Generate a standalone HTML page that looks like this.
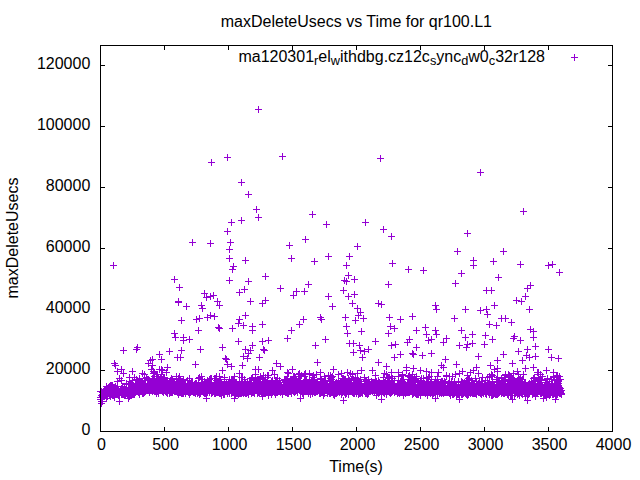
<!DOCTYPE html>
<html><head><meta charset="utf-8"><style>
html,body{margin:0;padding:0;background:#fff;}
svg{display:block;font-family:"Liberation Sans",sans-serif;font-size:16px;fill:#000;}
</style></head><body>
<svg width="640" height="480" viewBox="0 0 640 480">
<rect width="640" height="480" fill="#fff"/>
<path d="M100.5 432v-5M100.5 45v5M164.5 432v-5M164.5 45v5M228.5 432v-5M228.5 45v5M292.5 432v-5M292.5 45v5M356.5 432v-5M356.5 45v5M420.5 432v-5M420.5 45v5M484.5 432v-5M484.5 45v5M548.5 432v-5M548.5 45v5M612.5 432v-5M612.5 45v5M100 431.5h5M613 431.5h-5M100 370.5h5M613 370.5h-5M100 309.5h5M613 309.5h-5M100 248.5h5M613 248.5h-5M100 187.5h5M613 187.5h-5M100 126.5h5M613 126.5h-5M100 65.5h5M613 65.5h-5" stroke="#000" stroke-width="1" fill="none"/>
<g><text x="101.5" y="450" text-anchor="middle">0</text><text x="165.5" y="450" text-anchor="middle">500</text><text x="229.5" y="450" text-anchor="middle">1000</text><text x="293.5" y="450" text-anchor="middle">1500</text><text x="357.5" y="450" text-anchor="middle">2000</text><text x="421.5" y="450" text-anchor="middle">2500</text><text x="485.5" y="450" text-anchor="middle">3000</text><text x="549.5" y="450" text-anchor="middle">3500</text><text x="613.5" y="450" text-anchor="middle">4000</text><text x="90.3" y="435" text-anchor="end">0</text><text x="90.3" y="374" text-anchor="end">20000</text><text x="90.3" y="313" text-anchor="end">40000</text><text x="90.3" y="252" text-anchor="end">60000</text><text x="90.3" y="191" text-anchor="end">80000</text><text x="90.3" y="130" text-anchor="end">100000</text><text x="90.3" y="69" text-anchor="end">120000</text></g>
<text x="356.4" y="27" text-anchor="middle">maxDeleteUsecs vs Time for qr100.L1</text>
<text x="356" y="472" text-anchor="middle">Time(s)</text>
<text transform="translate(18,238) rotate(-90)" text-anchor="middle">maxDeleteUsecs</text>
<text x="545" y="61.5" text-anchor="end">ma120301<tspan font-size="12.8" dy="3.5">r</tspan><tspan dy="-3.5">el</tspan><tspan font-size="12.8" dy="3.5">w</tspan><tspan dy="-3.5">ithdbg.cz12c</tspan><tspan font-size="12.8" dy="3.5">s</tspan><tspan dy="-3.5">ync</tspan><tspan font-size="12.8" dy="3.5">d</tspan><tspan dy="-3.5">w0</tspan><tspan font-size="12.8" dy="3.5">c</tspan><tspan dy="-3.5">32r128</tspan></text>
<g stroke="#9400d3" stroke-width="1" fill="none">
<path d="M571 57.5h7M574.5 54v7"/>
<path d="M97 399.5h7M100.5 396v7M97 399.5h7M100.5 396v7M97 391.5h7M100.5 388v7M97 397.5h7M100.5 394v7M98 399.5h7M101.5 396v7M98 399.5h7M101.5 396v7M98 401.5h7M101.5 398v7M98 397.5h7M101.5 394v7M98 395.5h7M101.5 392v7M98 391.5h7M101.5 388v7M98 403.5h7M101.5 400v7M98 391.5h7M101.5 388v7M99 401.5h7M102.5 398v7M99 395.5h7M102.5 392v7M99 396.5h7M102.5 393v7M99 394.5h7M102.5 391v7M99 392.5h7M102.5 389v7M99 396.5h7M102.5 393v7M99 394.5h7M102.5 391v7M99 394.5h7M102.5 391v7M100 394.5h7M103.5 391v7M100 393.5h7M103.5 390v7M100 394.5h7M103.5 391v7M100 392.5h7M103.5 389v7M100 394.5h7M103.5 391v7M100 394.5h7M103.5 391v7M100 391.5h7M103.5 388v7M100 394.5h7M103.5 391v7M101 390.5h7M104.5 387v7M101 395.5h7M104.5 392v7M101 395.5h7M104.5 392v7M101 395.5h7M104.5 392v7M101 392.5h7M104.5 389v7M101 396.5h7M104.5 393v7M101 390.5h7M104.5 387v7M101 394.5h7M104.5 391v7M102 392.5h7M105.5 389v7M102 392.5h7M105.5 389v7M102 394.5h7M105.5 391v7M102 389.5h7M105.5 386v7M102 394.5h7M105.5 391v7M102 392.5h7M105.5 389v7M102 390.5h7M105.5 387v7M103 398.5h7M106.5 395v7M103 389.5h7M106.5 386v7M103 386.5h7M106.5 383v7M103 394.5h7M106.5 391v7M103 391.5h7M106.5 388v7M103 389.5h7M106.5 386v7M103 393.5h7M106.5 390v7M103 389.5h7M106.5 386v7M104 391.5h7M107.5 388v7M104 396.5h7M107.5 393v7M104 392.5h7M107.5 389v7M104 388.5h7M107.5 385v7M104 391.5h7M107.5 388v7M104 395.5h7M107.5 392v7M104 391.5h7M107.5 388v7M104 393.5h7M107.5 390v7M105 388.5h7M108.5 385v7M105 392.5h7M108.5 389v7M105 387.5h7M108.5 384v7M105 389.5h7M108.5 386v7M105 393.5h7M108.5 390v7M105 392.5h7M108.5 389v7M105 392.5h7M108.5 389v7M105 388.5h7M108.5 385v7M106 394.5h7M109.5 391v7M106 389.5h7M109.5 386v7M106 386.5h7M109.5 383v7M106 389.5h7M109.5 386v7M106 395.5h7M109.5 392v7M106 389.5h7M109.5 386v7M106 390.5h7M109.5 387v7M106 389.5h7M109.5 386v7M107 395.5h7M110.5 392v7M107 389.5h7M110.5 386v7M107 385.5h7M110.5 382v7M107 390.5h7M110.5 387v7M107 388.5h7M110.5 385v7M107 396.5h7M110.5 393v7M107 391.5h7M110.5 388v7M107 393.5h7M110.5 390v7M108 393.5h7M111.5 390v7M108 391.5h7M111.5 388v7M108 393.5h7M111.5 390v7M108 392.5h7M111.5 389v7M108 385.5h7M111.5 382v7M108 393.5h7M111.5 390v7M108 392.5h7M111.5 389v7M109 385.5h7M112.5 382v7M109 386.5h7M112.5 383v7M109 395.5h7M112.5 392v7M109 390.5h7M112.5 387v7M109 391.5h7M112.5 388v7M109 392.5h7M112.5 389v7M109 391.5h7M112.5 388v7M109 391.5h7M112.5 388v7M110 394.5h7M113.5 391v7M110 387.5h7M113.5 384v7M110 392.5h7M113.5 389v7M110 395.5h7M113.5 392v7M110 388.5h7M113.5 385v7M110 395.5h7M113.5 392v7M110 394.5h7M113.5 391v7M110 392.5h7M113.5 389v7M111 392.5h7M114.5 389v7M111 393.5h7M114.5 390v7M111 391.5h7M114.5 388v7M111 387.5h7M114.5 384v7M111 393.5h7M114.5 390v7M111 397.5h7M114.5 394v7M111 394.5h7M114.5 391v7M111 391.5h7M114.5 388v7M112 394.5h7M115.5 391v7M112 389.5h7M115.5 386v7M112 391.5h7M115.5 388v7M112 391.5h7M115.5 388v7M112 391.5h7M115.5 388v7M112 386.5h7M115.5 383v7M112 392.5h7M115.5 389v7M112 393.5h7M115.5 390v7M113 391.5h7M116.5 388v7M113 389.5h7M116.5 386v7M113 393.5h7M116.5 390v7M113 392.5h7M116.5 389v7M113 393.5h7M116.5 390v7M113 388.5h7M116.5 385v7M113 389.5h7M116.5 386v7M114 392.5h7M117.5 389v7M114 388.5h7M117.5 385v7M114 381.5h7M117.5 378v7M114 389.5h7M117.5 386v7M114 391.5h7M117.5 388v7M114 394.5h7M117.5 391v7M114 392.5h7M117.5 389v7M114 389.5h7M117.5 386v7M115 390.5h7M118.5 387v7M115 389.5h7M118.5 386v7M115 390.5h7M118.5 387v7M115 394.5h7M118.5 391v7M115 392.5h7M118.5 389v7M115 392.5h7M118.5 389v7M115 390.5h7M118.5 387v7M115 395.5h7M118.5 392v7M116 395.5h7M119.5 392v7M116 391.5h7M119.5 388v7M116 391.5h7M119.5 388v7M116 391.5h7M119.5 388v7M116 392.5h7M119.5 389v7M116 394.5h7M119.5 391v7M116 394.5h7M119.5 391v7M116 393.5h7M119.5 390v7M117 391.5h7M120.5 388v7M117 390.5h7M120.5 387v7M117 390.5h7M120.5 387v7M117 390.5h7M120.5 387v7M117 391.5h7M120.5 388v7M117 391.5h7M120.5 388v7M117 391.5h7M120.5 388v7M117 390.5h7M120.5 387v7M118 388.5h7M121.5 385v7M118 394.5h7M121.5 391v7M118 391.5h7M121.5 388v7M118 388.5h7M121.5 385v7M118 392.5h7M121.5 389v7M118 380.5h7M121.5 377v7M118 393.5h7M121.5 390v7M119 389.5h7M122.5 386v7M119 394.5h7M122.5 391v7M119 390.5h7M122.5 387v7M119 394.5h7M122.5 391v7M119 388.5h7M122.5 385v7M119 386.5h7M122.5 383v7M119 392.5h7M122.5 389v7M119 388.5h7M122.5 385v7M120 392.5h7M123.5 389v7M120 389.5h7M123.5 386v7M120 394.5h7M123.5 391v7M120 391.5h7M123.5 388v7M120 389.5h7M123.5 386v7M120 393.5h7M123.5 390v7M120 394.5h7M123.5 391v7M120 391.5h7M123.5 388v7M121 392.5h7M124.5 389v7M121 389.5h7M124.5 386v7M121 395.5h7M124.5 392v7M121 392.5h7M124.5 389v7M121 391.5h7M124.5 388v7M121 394.5h7M124.5 391v7M121 387.5h7M124.5 384v7M121 392.5h7M124.5 389v7M122 393.5h7M125.5 390v7M122 390.5h7M125.5 387v7M122 394.5h7M125.5 391v7M122 392.5h7M125.5 389v7M122 393.5h7M125.5 390v7M122 392.5h7M125.5 389v7M122 390.5h7M125.5 387v7M122 391.5h7M125.5 388v7M123 388.5h7M126.5 385v7M123 383.5h7M126.5 380v7M123 384.5h7M126.5 381v7M123 388.5h7M126.5 385v7M123 384.5h7M126.5 381v7M123 387.5h7M126.5 384v7M123 392.5h7M126.5 389v7M123 393.5h7M126.5 390v7M124 395.5h7M127.5 392v7M124 395.5h7M127.5 392v7M124 390.5h7M127.5 387v7M124 393.5h7M127.5 390v7M124 392.5h7M127.5 389v7M124 392.5h7M127.5 389v7M124 392.5h7M127.5 389v7M125 384.5h7M128.5 381v7M125 393.5h7M128.5 390v7M125 389.5h7M128.5 386v7M125 393.5h7M128.5 390v7M125 384.5h7M128.5 381v7M125 389.5h7M128.5 386v7M125 391.5h7M128.5 388v7M125 393.5h7M128.5 390v7M126 388.5h7M129.5 385v7M126 393.5h7M129.5 390v7M126 388.5h7M129.5 385v7M126 393.5h7M129.5 390v7M126 396.5h7M129.5 393v7M126 381.5h7M129.5 378v7M126 390.5h7M129.5 387v7M126 384.5h7M129.5 381v7M127 389.5h7M130.5 386v7M127 393.5h7M130.5 390v7M127 395.5h7M130.5 392v7M127 389.5h7M130.5 386v7M127 395.5h7M130.5 392v7M127 391.5h7M130.5 388v7M127 393.5h7M130.5 390v7M127 384.5h7M130.5 381v7M128 394.5h7M131.5 391v7M128 386.5h7M131.5 383v7M128 392.5h7M131.5 389v7M128 390.5h7M131.5 387v7M128 385.5h7M131.5 382v7M128 385.5h7M131.5 382v7M128 392.5h7M131.5 389v7M128 386.5h7M131.5 383v7M129 380.5h7M132.5 377v7M129 394.5h7M132.5 391v7M129 390.5h7M132.5 387v7M129 389.5h7M132.5 386v7M129 388.5h7M132.5 385v7M129 388.5h7M132.5 385v7M129 387.5h7M132.5 384v7M130 393.5h7M133.5 390v7M130 394.5h7M133.5 391v7M130 389.5h7M133.5 386v7M130 391.5h7M133.5 388v7M130 392.5h7M133.5 389v7M130 385.5h7M133.5 382v7M130 392.5h7M133.5 389v7M130 393.5h7M133.5 390v7M131 386.5h7M134.5 383v7M131 392.5h7M134.5 389v7M131 394.5h7M134.5 391v7M131 389.5h7M134.5 386v7M131 390.5h7M134.5 387v7M131 377.5h7M134.5 374v7M131 392.5h7M134.5 389v7M131 394.5h7M134.5 391v7M132 388.5h7M135.5 385v7M132 385.5h7M135.5 382v7M132 383.5h7M135.5 380v7M132 392.5h7M135.5 389v7M132 391.5h7M135.5 388v7M132 387.5h7M135.5 384v7M132 386.5h7M135.5 383v7M132 384.5h7M135.5 381v7M133 387.5h7M136.5 384v7M133 379.5h7M136.5 376v7M133 388.5h7M136.5 385v7M133 387.5h7M136.5 384v7M133 384.5h7M136.5 381v7M133 388.5h7M136.5 385v7M133 389.5h7M136.5 386v7M133 379.5h7M136.5 376v7M134 380.5h7M137.5 377v7M134 391.5h7M137.5 388v7M134 388.5h7M137.5 385v7M134 386.5h7M137.5 383v7M134 389.5h7M137.5 386v7M134 383.5h7M137.5 380v7M134 388.5h7M137.5 385v7M135 387.5h7M138.5 384v7M135 392.5h7M138.5 389v7M135 390.5h7M138.5 387v7M135 390.5h7M138.5 387v7M135 386.5h7M138.5 383v7M135 386.5h7M138.5 383v7M135 389.5h7M138.5 386v7M135 385.5h7M138.5 382v7M136 388.5h7M139.5 385v7M136 390.5h7M139.5 387v7M136 394.5h7M139.5 391v7M136 381.5h7M139.5 378v7M136 378.5h7M139.5 375v7M136 380.5h7M139.5 377v7M136 389.5h7M139.5 386v7M136 380.5h7M139.5 377v7M137 382.5h7M140.5 379v7M137 388.5h7M140.5 385v7M137 388.5h7M140.5 385v7M137 391.5h7M140.5 388v7M137 388.5h7M140.5 385v7M137 383.5h7M140.5 380v7M137 388.5h7M140.5 385v7M137 391.5h7M140.5 388v7M138 387.5h7M141.5 384v7M138 390.5h7M141.5 387v7M138 385.5h7M141.5 382v7M138 386.5h7M141.5 383v7M138 384.5h7M141.5 381v7M138 387.5h7M141.5 384v7M138 383.5h7M141.5 380v7M138 381.5h7M141.5 378v7M139 382.5h7M142.5 379v7M139 386.5h7M142.5 383v7M139 387.5h7M142.5 384v7M139 389.5h7M142.5 386v7M139 383.5h7M142.5 380v7M139 384.5h7M142.5 381v7M139 393.5h7M142.5 390v7M139 386.5h7M142.5 383v7M140 393.5h7M143.5 390v7M140 384.5h7M143.5 381v7M140 389.5h7M143.5 386v7M140 391.5h7M143.5 388v7M140 387.5h7M143.5 384v7M140 391.5h7M143.5 388v7M140 390.5h7M143.5 387v7M141 374.5h7M144.5 371v7M141 387.5h7M144.5 384v7M141 386.5h7M144.5 383v7M141 386.5h7M144.5 383v7M141 392.5h7M144.5 389v7M141 386.5h7M144.5 383v7M141 390.5h7M144.5 387v7M141 378.5h7M144.5 375v7M142 388.5h7M145.5 385v7M142 385.5h7M145.5 382v7M142 389.5h7M145.5 386v7M142 391.5h7M145.5 388v7M142 380.5h7M145.5 377v7M142 388.5h7M145.5 385v7M142 387.5h7M145.5 384v7M142 390.5h7M145.5 387v7M143 390.5h7M146.5 387v7M143 389.5h7M146.5 386v7M143 386.5h7M146.5 383v7M143 388.5h7M146.5 385v7M143 386.5h7M146.5 383v7M143 386.5h7M146.5 383v7M143 377.5h7M146.5 374v7M143 387.5h7M146.5 384v7M144 390.5h7M147.5 387v7M144 386.5h7M147.5 383v7M144 387.5h7M147.5 384v7M144 383.5h7M147.5 380v7M144 387.5h7M147.5 384v7M144 379.5h7M147.5 376v7M144 379.5h7M147.5 376v7M144 389.5h7M147.5 386v7M145 387.5h7M148.5 384v7M145 387.5h7M148.5 384v7M145 390.5h7M148.5 387v7M145 380.5h7M148.5 377v7M145 388.5h7M148.5 385v7M145 379.5h7M148.5 376v7M145 387.5h7M148.5 384v7M146 388.5h7M149.5 385v7M146 387.5h7M149.5 384v7M146 390.5h7M149.5 387v7M146 388.5h7M149.5 385v7M146 391.5h7M149.5 388v7M146 380.5h7M149.5 377v7M146 386.5h7M149.5 383v7M146 392.5h7M149.5 389v7M147 383.5h7M150.5 380v7M147 389.5h7M150.5 386v7M147 389.5h7M150.5 386v7M147 387.5h7M150.5 384v7M147 385.5h7M150.5 382v7M147 381.5h7M150.5 378v7M147 389.5h7M150.5 386v7M147 390.5h7M150.5 387v7M148 390.5h7M151.5 387v7M148 382.5h7M151.5 379v7M148 387.5h7M151.5 384v7M148 383.5h7M151.5 380v7M148 383.5h7M151.5 380v7M148 387.5h7M151.5 384v7M148 382.5h7M151.5 379v7M148 388.5h7M151.5 385v7M149 387.5h7M152.5 384v7M149 378.5h7M152.5 375v7M149 388.5h7M152.5 385v7M149 385.5h7M152.5 382v7M149 391.5h7M152.5 388v7M149 391.5h7M152.5 388v7M149 388.5h7M152.5 385v7M149 389.5h7M152.5 386v7M150 378.5h7M153.5 375v7M150 378.5h7M153.5 375v7M150 373.5h7M153.5 370v7M150 383.5h7M153.5 380v7M150 371.5h7M153.5 368v7M150 390.5h7M153.5 387v7M150 382.5h7M153.5 379v7M151 379.5h7M154.5 376v7M151 391.5h7M154.5 388v7M151 389.5h7M154.5 386v7M151 387.5h7M154.5 384v7M151 383.5h7M154.5 380v7M151 376.5h7M154.5 373v7M151 387.5h7M154.5 384v7M151 379.5h7M154.5 376v7M152 390.5h7M155.5 387v7M152 385.5h7M155.5 382v7M152 383.5h7M155.5 380v7M152 388.5h7M155.5 385v7M152 387.5h7M155.5 384v7M152 391.5h7M155.5 388v7M152 386.5h7M155.5 383v7M152 387.5h7M155.5 384v7M153 376.5h7M156.5 373v7M153 382.5h7M156.5 379v7M153 391.5h7M156.5 388v7M153 383.5h7M156.5 380v7M153 379.5h7M156.5 376v7M153 390.5h7M156.5 387v7M153 387.5h7M156.5 384v7M153 393.5h7M156.5 390v7M154 385.5h7M157.5 382v7M154 385.5h7M157.5 382v7M154 374.5h7M157.5 371v7M154 380.5h7M157.5 377v7M154 382.5h7M157.5 379v7M154 382.5h7M157.5 379v7M154 386.5h7M157.5 383v7M154 391.5h7M157.5 388v7M155 378.5h7M158.5 375v7M155 379.5h7M158.5 376v7M155 390.5h7M158.5 387v7M155 393.5h7M158.5 390v7M155 384.5h7M158.5 381v7M155 389.5h7M158.5 386v7M155 390.5h7M158.5 387v7M155 388.5h7M158.5 385v7M156 389.5h7M159.5 386v7M156 388.5h7M159.5 385v7M156 390.5h7M159.5 387v7M156 382.5h7M159.5 379v7M156 380.5h7M159.5 377v7M156 369.5h7M159.5 366v7M156 386.5h7M159.5 383v7M157 381.5h7M160.5 378v7M157 380.5h7M160.5 377v7M157 383.5h7M160.5 380v7M157 384.5h7M160.5 381v7M157 382.5h7M160.5 379v7M157 385.5h7M160.5 382v7M157 377.5h7M160.5 374v7M157 389.5h7M160.5 386v7M158 387.5h7M161.5 384v7M158 374.5h7M161.5 371v7M158 374.5h7M161.5 371v7M158 369.5h7M161.5 366v7M158 388.5h7M161.5 385v7M158 389.5h7M161.5 386v7M158 376.5h7M161.5 373v7M158 390.5h7M161.5 387v7M159 382.5h7M162.5 379v7M159 388.5h7M162.5 385v7M159 370.5h7M162.5 367v7M159 389.5h7M162.5 386v7M159 384.5h7M162.5 381v7M159 391.5h7M162.5 388v7M159 391.5h7M162.5 388v7M159 385.5h7M162.5 382v7M160 383.5h7M163.5 380v7M160 383.5h7M163.5 380v7M160 380.5h7M163.5 377v7M160 392.5h7M163.5 389v7M160 387.5h7M163.5 384v7M160 378.5h7M163.5 375v7M160 391.5h7M163.5 388v7M160 385.5h7M163.5 382v7M161 385.5h7M164.5 382v7M161 387.5h7M164.5 384v7M161 390.5h7M164.5 387v7M161 388.5h7M164.5 385v7M161 377.5h7M164.5 374v7M161 385.5h7M164.5 382v7M161 386.5h7M164.5 383v7M162 388.5h7M165.5 385v7M162 386.5h7M165.5 383v7M162 387.5h7M165.5 384v7M162 381.5h7M165.5 378v7M162 391.5h7M165.5 388v7M162 387.5h7M165.5 384v7M162 383.5h7M165.5 380v7M162 390.5h7M165.5 387v7M163 384.5h7M166.5 381v7M163 381.5h7M166.5 378v7M163 372.5h7M166.5 369v7M163 387.5h7M166.5 384v7M163 387.5h7M166.5 384v7M163 392.5h7M166.5 389v7M163 390.5h7M166.5 387v7M163 389.5h7M166.5 386v7M164 382.5h7M167.5 379v7M164 381.5h7M167.5 378v7M164 393.5h7M167.5 390v7M164 392.5h7M167.5 389v7M164 386.5h7M167.5 383v7M164 389.5h7M167.5 386v7M164 391.5h7M167.5 388v7M164 385.5h7M167.5 382v7M165 387.5h7M168.5 384v7M165 385.5h7M168.5 382v7M165 389.5h7M168.5 386v7M165 384.5h7M168.5 381v7M165 390.5h7M168.5 387v7M165 388.5h7M168.5 385v7M165 387.5h7M168.5 384v7M165 390.5h7M168.5 387v7M166 393.5h7M169.5 390v7M166 390.5h7M169.5 387v7M166 384.5h7M169.5 381v7M166 385.5h7M169.5 382v7M166 387.5h7M169.5 384v7M166 387.5h7M169.5 384v7M166 385.5h7M169.5 382v7M167 392.5h7M170.5 389v7M167 390.5h7M170.5 387v7M167 389.5h7M170.5 386v7M167 387.5h7M170.5 384v7M167 380.5h7M170.5 377v7M167 392.5h7M170.5 389v7M167 384.5h7M170.5 381v7M167 387.5h7M170.5 384v7M168 385.5h7M171.5 382v7M168 387.5h7M171.5 384v7M168 389.5h7M171.5 386v7M168 378.5h7M171.5 375v7M168 388.5h7M171.5 385v7M168 392.5h7M171.5 389v7M168 388.5h7M171.5 385v7M168 380.5h7M171.5 377v7M169 392.5h7M172.5 389v7M169 385.5h7M172.5 382v7M169 381.5h7M172.5 378v7M169 383.5h7M172.5 380v7M169 379.5h7M172.5 376v7M169 379.5h7M172.5 376v7M169 391.5h7M172.5 388v7M169 390.5h7M172.5 387v7M170 390.5h7M173.5 387v7M170 386.5h7M173.5 383v7M170 389.5h7M173.5 386v7M170 387.5h7M173.5 384v7M170 388.5h7M173.5 385v7M170 386.5h7M173.5 383v7M170 384.5h7M173.5 381v7M170 389.5h7M173.5 386v7M171 391.5h7M174.5 388v7M171 391.5h7M174.5 388v7M171 386.5h7M174.5 383v7M171 389.5h7M174.5 386v7M171 384.5h7M174.5 381v7M171 383.5h7M174.5 380v7M171 387.5h7M174.5 384v7M171 390.5h7M174.5 387v7M172 389.5h7M175.5 386v7M172 387.5h7M175.5 384v7M172 386.5h7M175.5 383v7M172 391.5h7M175.5 388v7M172 386.5h7M175.5 383v7M172 391.5h7M175.5 388v7M172 390.5h7M175.5 387v7M173 385.5h7M176.5 382v7M173 382.5h7M176.5 379v7M173 389.5h7M176.5 386v7M173 386.5h7M176.5 383v7M173 390.5h7M176.5 387v7M173 391.5h7M176.5 388v7M173 390.5h7M176.5 387v7M173 376.5h7M176.5 373v7M174 385.5h7M177.5 382v7M174 383.5h7M177.5 380v7M174 384.5h7M177.5 381v7M174 390.5h7M177.5 387v7M174 389.5h7M177.5 386v7M174 388.5h7M177.5 385v7M174 392.5h7M177.5 389v7M174 387.5h7M177.5 384v7M175 388.5h7M178.5 385v7M175 385.5h7M178.5 382v7M175 394.5h7M178.5 391v7M175 378.5h7M178.5 375v7M175 387.5h7M178.5 384v7M175 387.5h7M178.5 384v7M175 387.5h7M178.5 384v7M175 387.5h7M178.5 384v7M176 389.5h7M179.5 386v7M176 391.5h7M179.5 388v7M176 392.5h7M179.5 389v7M176 378.5h7M179.5 375v7M176 391.5h7M179.5 388v7M176 385.5h7M179.5 382v7M176 388.5h7M179.5 385v7M176 378.5h7M179.5 375v7M177 379.5h7M180.5 376v7M177 383.5h7M180.5 380v7M177 383.5h7M180.5 380v7M177 389.5h7M180.5 386v7M177 392.5h7M180.5 389v7M177 389.5h7M180.5 386v7M177 386.5h7M180.5 383v7M178 393.5h7M181.5 390v7M178 390.5h7M181.5 387v7M178 389.5h7M181.5 386v7M178 390.5h7M181.5 387v7M178 393.5h7M181.5 390v7M178 390.5h7M181.5 387v7M178 381.5h7M181.5 378v7M178 392.5h7M181.5 389v7M179 390.5h7M182.5 387v7M179 392.5h7M182.5 389v7M179 387.5h7M182.5 384v7M179 382.5h7M182.5 379v7M179 391.5h7M182.5 388v7M179 385.5h7M182.5 382v7M179 393.5h7M182.5 390v7M179 390.5h7M182.5 387v7M180 390.5h7M183.5 387v7M180 391.5h7M183.5 388v7M180 393.5h7M183.5 390v7M180 379.5h7M183.5 376v7M180 389.5h7M183.5 386v7M180 391.5h7M183.5 388v7M180 390.5h7M183.5 387v7M180 391.5h7M183.5 388v7M181 389.5h7M184.5 386v7M181 384.5h7M184.5 381v7M181 390.5h7M184.5 387v7M181 391.5h7M184.5 388v7M181 390.5h7M184.5 387v7M181 388.5h7M184.5 385v7M181 386.5h7M184.5 383v7M181 391.5h7M184.5 388v7M182 383.5h7M185.5 380v7M182 393.5h7M185.5 390v7M182 392.5h7M185.5 389v7M182 387.5h7M185.5 384v7M182 393.5h7M185.5 390v7M182 391.5h7M185.5 388v7M182 388.5h7M185.5 385v7M183 391.5h7M186.5 388v7M183 388.5h7M186.5 385v7M183 389.5h7M186.5 386v7M183 388.5h7M186.5 385v7M183 390.5h7M186.5 387v7M183 386.5h7M186.5 383v7M183 391.5h7M186.5 388v7M183 389.5h7M186.5 386v7M184 389.5h7M187.5 386v7M184 390.5h7M187.5 387v7M184 387.5h7M187.5 384v7M184 389.5h7M187.5 386v7M184 389.5h7M187.5 386v7M184 380.5h7M187.5 377v7M184 389.5h7M187.5 386v7M184 387.5h7M187.5 384v7M185 388.5h7M188.5 385v7M185 390.5h7M188.5 387v7M185 392.5h7M188.5 389v7M185 384.5h7M188.5 381v7M185 385.5h7M188.5 382v7M185 390.5h7M188.5 387v7M185 391.5h7M188.5 388v7M185 388.5h7M188.5 385v7M186 394.5h7M189.5 391v7M186 393.5h7M189.5 390v7M186 383.5h7M189.5 380v7M186 378.5h7M189.5 375v7M186 380.5h7M189.5 377v7M186 385.5h7M189.5 382v7M186 390.5h7M189.5 387v7M186 386.5h7M189.5 383v7M187 385.5h7M190.5 382v7M187 392.5h7M190.5 389v7M187 384.5h7M190.5 381v7M187 392.5h7M190.5 389v7M187 390.5h7M190.5 387v7M187 388.5h7M190.5 385v7M187 384.5h7M190.5 381v7M187 392.5h7M190.5 389v7M188 391.5h7M191.5 388v7M188 388.5h7M191.5 385v7M188 391.5h7M191.5 388v7M188 389.5h7M191.5 386v7M188 382.5h7M191.5 379v7M188 386.5h7M191.5 383v7M188 388.5h7M191.5 385v7M189 391.5h7M192.5 388v7M189 390.5h7M192.5 387v7M189 382.5h7M192.5 379v7M189 384.5h7M192.5 381v7M189 389.5h7M192.5 386v7M189 391.5h7M192.5 388v7M189 390.5h7M192.5 387v7M189 386.5h7M192.5 383v7M190 386.5h7M193.5 383v7M190 392.5h7M193.5 389v7M190 389.5h7M193.5 386v7M190 391.5h7M193.5 388v7M190 388.5h7M193.5 385v7M190 390.5h7M193.5 387v7M190 391.5h7M193.5 388v7M190 386.5h7M193.5 383v7M191 392.5h7M194.5 389v7M191 384.5h7M194.5 381v7M191 389.5h7M194.5 386v7M191 386.5h7M194.5 383v7M191 390.5h7M194.5 387v7M191 391.5h7M194.5 388v7M191 389.5h7M194.5 386v7M191 384.5h7M194.5 381v7M192 383.5h7M195.5 380v7M192 389.5h7M195.5 386v7M192 389.5h7M195.5 386v7M192 391.5h7M195.5 388v7M192 383.5h7M195.5 380v7M192 384.5h7M195.5 381v7M192 393.5h7M195.5 390v7M192 393.5h7M195.5 390v7M193 387.5h7M196.5 384v7M193 385.5h7M196.5 382v7M193 389.5h7M196.5 386v7M193 388.5h7M196.5 385v7M193 383.5h7M196.5 380v7M193 384.5h7M196.5 381v7M193 389.5h7M196.5 386v7M194 392.5h7M197.5 389v7M194 389.5h7M197.5 386v7M194 388.5h7M197.5 385v7M194 387.5h7M197.5 384v7M194 386.5h7M197.5 383v7M194 393.5h7M197.5 390v7M194 386.5h7M197.5 383v7M194 389.5h7M197.5 386v7M195 386.5h7M198.5 383v7M195 392.5h7M198.5 389v7M195 378.5h7M198.5 375v7M195 392.5h7M198.5 389v7M195 382.5h7M198.5 379v7M195 383.5h7M198.5 380v7M195 390.5h7M198.5 387v7M195 387.5h7M198.5 384v7M196 387.5h7M199.5 384v7M196 390.5h7M199.5 387v7M196 390.5h7M199.5 387v7M196 390.5h7M199.5 387v7M196 391.5h7M199.5 388v7M196 377.5h7M199.5 374v7M196 391.5h7M199.5 388v7M196 394.5h7M199.5 391v7M197 390.5h7M200.5 387v7M197 389.5h7M200.5 386v7M197 387.5h7M200.5 384v7M197 393.5h7M200.5 390v7M197 390.5h7M200.5 387v7M197 388.5h7M200.5 385v7M197 389.5h7M200.5 386v7M197 391.5h7M200.5 388v7M198 390.5h7M201.5 387v7M198 388.5h7M201.5 385v7M198 376.5h7M201.5 373v7M198 384.5h7M201.5 381v7M198 388.5h7M201.5 385v7M198 388.5h7M201.5 385v7M198 383.5h7M201.5 380v7M199 390.5h7M202.5 387v7M199 382.5h7M202.5 379v7M199 379.5h7M202.5 376v7M199 385.5h7M202.5 382v7M199 388.5h7M202.5 385v7M199 379.5h7M202.5 376v7M199 391.5h7M202.5 388v7M199 389.5h7M202.5 386v7M200 390.5h7M203.5 387v7M200 384.5h7M203.5 381v7M200 388.5h7M203.5 385v7M200 387.5h7M203.5 384v7M200 392.5h7M203.5 389v7M200 386.5h7M203.5 383v7M200 392.5h7M203.5 389v7M200 388.5h7M203.5 385v7M201 390.5h7M204.5 387v7M201 387.5h7M204.5 384v7M201 381.5h7M204.5 378v7M201 393.5h7M204.5 390v7M201 393.5h7M204.5 390v7M201 388.5h7M204.5 385v7M201 387.5h7M204.5 384v7M201 388.5h7M204.5 385v7M202 384.5h7M205.5 381v7M202 388.5h7M205.5 385v7M202 393.5h7M205.5 390v7M202 391.5h7M205.5 388v7M202 385.5h7M205.5 382v7M202 386.5h7M205.5 383v7M202 390.5h7M205.5 387v7M202 388.5h7M205.5 385v7M203 390.5h7M206.5 387v7M203 387.5h7M206.5 384v7M203 390.5h7M206.5 387v7M203 392.5h7M206.5 389v7M203 389.5h7M206.5 386v7M203 387.5h7M206.5 384v7M203 390.5h7M206.5 387v7M203 391.5h7M206.5 388v7M204 380.5h7M207.5 377v7M204 392.5h7M207.5 389v7M204 391.5h7M207.5 388v7M204 390.5h7M207.5 387v7M204 391.5h7M207.5 388v7M204 388.5h7M207.5 385v7M204 387.5h7M207.5 384v7M205 390.5h7M208.5 387v7M205 389.5h7M208.5 386v7M205 390.5h7M208.5 387v7M205 390.5h7M208.5 387v7M205 383.5h7M208.5 380v7M205 388.5h7M208.5 385v7M205 382.5h7M208.5 379v7M205 386.5h7M208.5 383v7M206 392.5h7M209.5 389v7M206 386.5h7M209.5 383v7M206 387.5h7M209.5 384v7M206 388.5h7M209.5 385v7M206 386.5h7M209.5 383v7M206 392.5h7M209.5 389v7M206 379.5h7M209.5 376v7M206 386.5h7M209.5 383v7M207 387.5h7M210.5 384v7M207 390.5h7M210.5 387v7M207 386.5h7M210.5 383v7M207 387.5h7M210.5 384v7M207 378.5h7M210.5 375v7M207 390.5h7M210.5 387v7M207 384.5h7M210.5 381v7M207 382.5h7M210.5 379v7M208 391.5h7M211.5 388v7M208 389.5h7M211.5 386v7M208 383.5h7M211.5 380v7M208 389.5h7M211.5 386v7M208 393.5h7M211.5 390v7M208 386.5h7M211.5 383v7M208 389.5h7M211.5 386v7M208 391.5h7M211.5 388v7M209 386.5h7M212.5 383v7M209 388.5h7M212.5 385v7M209 387.5h7M212.5 384v7M209 386.5h7M212.5 383v7M209 385.5h7M212.5 382v7M209 388.5h7M212.5 385v7M209 392.5h7M212.5 389v7M210 389.5h7M213.5 386v7M210 391.5h7M213.5 388v7M210 389.5h7M213.5 386v7M210 386.5h7M213.5 383v7M210 390.5h7M213.5 387v7M210 389.5h7M213.5 386v7M210 389.5h7M213.5 386v7M210 386.5h7M213.5 383v7M211 388.5h7M214.5 385v7M211 387.5h7M214.5 384v7M211 393.5h7M214.5 390v7M211 378.5h7M214.5 375v7M211 391.5h7M214.5 388v7M211 388.5h7M214.5 385v7M211 391.5h7M214.5 388v7M211 387.5h7M214.5 384v7M212 386.5h7M215.5 383v7M212 390.5h7M215.5 387v7M212 393.5h7M215.5 390v7M212 391.5h7M215.5 388v7M212 391.5h7M215.5 388v7M212 393.5h7M215.5 390v7M212 390.5h7M215.5 387v7M212 390.5h7M215.5 387v7M213 388.5h7M216.5 385v7M213 384.5h7M216.5 381v7M213 392.5h7M216.5 389v7M213 380.5h7M216.5 377v7M213 388.5h7M216.5 385v7M213 390.5h7M216.5 387v7M213 382.5h7M216.5 379v7M213 376.5h7M216.5 373v7M214 390.5h7M217.5 387v7M214 389.5h7M217.5 386v7M214 381.5h7M217.5 378v7M214 384.5h7M217.5 381v7M214 391.5h7M217.5 388v7M214 392.5h7M217.5 389v7M214 389.5h7M217.5 386v7M215 392.5h7M218.5 389v7M215 390.5h7M218.5 387v7M215 390.5h7M218.5 387v7M215 392.5h7M218.5 389v7M215 389.5h7M218.5 386v7M215 386.5h7M218.5 383v7M215 390.5h7M218.5 387v7M215 383.5h7M218.5 380v7M216 392.5h7M219.5 389v7M216 392.5h7M219.5 389v7M216 388.5h7M219.5 385v7M216 393.5h7M219.5 390v7M216 392.5h7M219.5 389v7M216 389.5h7M219.5 386v7M216 376.5h7M219.5 373v7M216 387.5h7M219.5 384v7M217 384.5h7M220.5 381v7M217 388.5h7M220.5 385v7M217 386.5h7M220.5 383v7M217 390.5h7M220.5 387v7M217 393.5h7M220.5 390v7M217 388.5h7M220.5 385v7M217 387.5h7M220.5 384v7M217 379.5h7M220.5 376v7M218 395.5h7M221.5 392v7M218 393.5h7M221.5 390v7M218 383.5h7M221.5 380v7M218 387.5h7M221.5 384v7M218 388.5h7M221.5 385v7M218 391.5h7M221.5 388v7M218 391.5h7M221.5 388v7M218 391.5h7M221.5 388v7M219 384.5h7M222.5 381v7M219 391.5h7M222.5 388v7M219 392.5h7M222.5 389v7M219 391.5h7M222.5 388v7M219 390.5h7M222.5 387v7M219 387.5h7M222.5 384v7M219 387.5h7M222.5 384v7M219 385.5h7M222.5 382v7M220 388.5h7M223.5 385v7M220 390.5h7M223.5 387v7M220 394.5h7M223.5 391v7M220 392.5h7M223.5 389v7M220 390.5h7M223.5 387v7M220 392.5h7M223.5 389v7M220 393.5h7M223.5 390v7M221 393.5h7M224.5 390v7M221 383.5h7M224.5 380v7M221 391.5h7M224.5 388v7M221 379.5h7M224.5 376v7M221 388.5h7M224.5 385v7M221 381.5h7M224.5 378v7M221 394.5h7M224.5 391v7M221 391.5h7M224.5 388v7M222 390.5h7M225.5 387v7M222 390.5h7M225.5 387v7M222 389.5h7M225.5 386v7M222 389.5h7M225.5 386v7M222 386.5h7M225.5 383v7M222 388.5h7M225.5 385v7M222 390.5h7M225.5 387v7M222 389.5h7M225.5 386v7M223 388.5h7M226.5 385v7M223 382.5h7M226.5 379v7M223 384.5h7M226.5 381v7M223 384.5h7M226.5 381v7M223 384.5h7M226.5 381v7M223 386.5h7M226.5 383v7M223 383.5h7M226.5 380v7M223 388.5h7M226.5 385v7M224 390.5h7M227.5 387v7M224 392.5h7M227.5 389v7M224 390.5h7M227.5 387v7M224 391.5h7M227.5 388v7M224 384.5h7M227.5 381v7M224 384.5h7M227.5 381v7M224 393.5h7M227.5 390v7M224 392.5h7M227.5 389v7M225 390.5h7M228.5 387v7M225 391.5h7M228.5 388v7M225 390.5h7M228.5 387v7M225 391.5h7M228.5 388v7M225 390.5h7M228.5 387v7M225 388.5h7M228.5 385v7M225 390.5h7M228.5 387v7M226 391.5h7M229.5 388v7M226 388.5h7M229.5 385v7M226 384.5h7M229.5 381v7M226 386.5h7M229.5 383v7M226 387.5h7M229.5 384v7M226 393.5h7M229.5 390v7M226 393.5h7M229.5 390v7M226 379.5h7M229.5 376v7M227 387.5h7M230.5 384v7M227 390.5h7M230.5 387v7M227 389.5h7M230.5 386v7M227 385.5h7M230.5 382v7M227 385.5h7M230.5 382v7M227 382.5h7M230.5 379v7M227 390.5h7M230.5 387v7M227 388.5h7M230.5 385v7M228 389.5h7M231.5 386v7M228 393.5h7M231.5 390v7M228 386.5h7M231.5 383v7M228 389.5h7M231.5 386v7M228 385.5h7M231.5 382v7M228 380.5h7M231.5 377v7M228 381.5h7M231.5 378v7M228 387.5h7M231.5 384v7M229 379.5h7M232.5 376v7M229 381.5h7M232.5 378v7M229 381.5h7M232.5 378v7M229 392.5h7M232.5 389v7M229 389.5h7M232.5 386v7M229 386.5h7M232.5 383v7M229 391.5h7M232.5 388v7M229 390.5h7M232.5 387v7M230 390.5h7M233.5 387v7M230 391.5h7M233.5 388v7M230 389.5h7M233.5 386v7M230 387.5h7M233.5 384v7M230 390.5h7M233.5 387v7M230 383.5h7M233.5 380v7M230 379.5h7M233.5 376v7M231 384.5h7M234.5 381v7M231 390.5h7M234.5 387v7M231 390.5h7M234.5 387v7M231 389.5h7M234.5 386v7M231 392.5h7M234.5 389v7M231 390.5h7M234.5 387v7M231 391.5h7M234.5 388v7M231 376.5h7M234.5 373v7M232 394.5h7M235.5 391v7M232 392.5h7M235.5 389v7M232 384.5h7M235.5 381v7M232 395.5h7M235.5 392v7M232 382.5h7M235.5 379v7M232 388.5h7M235.5 385v7M232 387.5h7M235.5 384v7M232 385.5h7M235.5 382v7M233 388.5h7M236.5 385v7M233 386.5h7M236.5 383v7M233 390.5h7M236.5 387v7M233 389.5h7M236.5 386v7M233 393.5h7M236.5 390v7M233 383.5h7M236.5 380v7M233 386.5h7M236.5 383v7M233 391.5h7M236.5 388v7M234 388.5h7M237.5 385v7M234 389.5h7M237.5 386v7M234 390.5h7M237.5 387v7M234 393.5h7M237.5 390v7M234 385.5h7M237.5 382v7M234 385.5h7M237.5 382v7M234 390.5h7M237.5 387v7M234 386.5h7M237.5 383v7M235 394.5h7M238.5 391v7M235 392.5h7M238.5 389v7M235 390.5h7M238.5 387v7M235 388.5h7M238.5 385v7M235 387.5h7M238.5 384v7M235 388.5h7M238.5 385v7M235 392.5h7M238.5 389v7M235 387.5h7M238.5 384v7M236 382.5h7M239.5 379v7M236 390.5h7M239.5 387v7M236 393.5h7M239.5 390v7M236 391.5h7M239.5 388v7M236 381.5h7M239.5 378v7M236 390.5h7M239.5 387v7M236 393.5h7M239.5 390v7M237 388.5h7M240.5 385v7M237 392.5h7M240.5 389v7M237 387.5h7M240.5 384v7M237 389.5h7M240.5 386v7M237 393.5h7M240.5 390v7M237 386.5h7M240.5 383v7M237 389.5h7M240.5 386v7M237 388.5h7M240.5 385v7M238 384.5h7M241.5 381v7M238 389.5h7M241.5 386v7M238 377.5h7M241.5 374v7M238 393.5h7M241.5 390v7M238 392.5h7M241.5 389v7M238 392.5h7M241.5 389v7M238 382.5h7M241.5 379v7M238 388.5h7M241.5 385v7M239 382.5h7M242.5 379v7M239 389.5h7M242.5 386v7M239 391.5h7M242.5 388v7M239 381.5h7M242.5 378v7M239 392.5h7M242.5 389v7M239 385.5h7M242.5 382v7M239 390.5h7M242.5 387v7M239 391.5h7M242.5 388v7M240 388.5h7M243.5 385v7M240 392.5h7M243.5 389v7M240 393.5h7M243.5 390v7M240 392.5h7M243.5 389v7M240 390.5h7M243.5 387v7M240 388.5h7M243.5 385v7M240 389.5h7M243.5 386v7M240 385.5h7M243.5 382v7M241 388.5h7M244.5 385v7M241 392.5h7M244.5 389v7M241 392.5h7M244.5 389v7M241 379.5h7M244.5 376v7M241 386.5h7M244.5 383v7M241 389.5h7M244.5 386v7M241 386.5h7M244.5 383v7M242 383.5h7M245.5 380v7M242 390.5h7M245.5 387v7M242 388.5h7M245.5 385v7M242 386.5h7M245.5 383v7M242 386.5h7M245.5 383v7M242 393.5h7M245.5 390v7M242 388.5h7M245.5 385v7M242 389.5h7M245.5 386v7M243 393.5h7M246.5 390v7M243 390.5h7M246.5 387v7M243 388.5h7M246.5 385v7M243 385.5h7M246.5 382v7M243 386.5h7M246.5 383v7M243 389.5h7M246.5 386v7M243 389.5h7M246.5 386v7M243 387.5h7M246.5 384v7M244 388.5h7M247.5 385v7M244 385.5h7M247.5 382v7M244 392.5h7M247.5 389v7M244 392.5h7M247.5 389v7M244 381.5h7M247.5 378v7M244 383.5h7M247.5 380v7M244 384.5h7M247.5 381v7M244 391.5h7M247.5 388v7M245 390.5h7M248.5 387v7M245 390.5h7M248.5 387v7M245 384.5h7M248.5 381v7M245 390.5h7M248.5 387v7M245 394.5h7M248.5 391v7M245 387.5h7M248.5 384v7M245 390.5h7M248.5 387v7M245 390.5h7M248.5 387v7M246 382.5h7M249.5 379v7M246 389.5h7M249.5 386v7M246 387.5h7M249.5 384v7M246 391.5h7M249.5 388v7M246 391.5h7M249.5 388v7M246 388.5h7M249.5 385v7M246 386.5h7M249.5 383v7M247 382.5h7M250.5 379v7M247 390.5h7M250.5 387v7M247 389.5h7M250.5 386v7M247 391.5h7M250.5 388v7M247 389.5h7M250.5 386v7M247 387.5h7M250.5 384v7M247 389.5h7M250.5 386v7M247 391.5h7M250.5 388v7M248 390.5h7M251.5 387v7M248 393.5h7M251.5 390v7M248 391.5h7M251.5 388v7M248 378.5h7M251.5 375v7M248 390.5h7M251.5 387v7M248 391.5h7M251.5 388v7M248 387.5h7M251.5 384v7M248 388.5h7M251.5 385v7M249 389.5h7M252.5 386v7M249 387.5h7M252.5 384v7M249 392.5h7M252.5 389v7M249 392.5h7M252.5 389v7M249 391.5h7M252.5 388v7M249 390.5h7M252.5 387v7M249 388.5h7M252.5 385v7M249 389.5h7M252.5 386v7M250 390.5h7M253.5 387v7M250 391.5h7M253.5 388v7M250 382.5h7M253.5 379v7M250 385.5h7M253.5 382v7M250 383.5h7M253.5 380v7M250 389.5h7M253.5 386v7M250 392.5h7M253.5 389v7M250 383.5h7M253.5 380v7M251 388.5h7M254.5 385v7M251 384.5h7M254.5 381v7M251 382.5h7M254.5 379v7M251 391.5h7M254.5 388v7M251 386.5h7M254.5 383v7M251 393.5h7M254.5 390v7M251 392.5h7M254.5 389v7M251 390.5h7M254.5 387v7M252 386.5h7M255.5 383v7M252 390.5h7M255.5 387v7M252 390.5h7M255.5 387v7M252 385.5h7M255.5 382v7M252 386.5h7M255.5 383v7M252 374.5h7M255.5 371v7M252 378.5h7M255.5 375v7M253 389.5h7M256.5 386v7M253 384.5h7M256.5 381v7M253 385.5h7M256.5 382v7M253 389.5h7M256.5 386v7M253 387.5h7M256.5 384v7M253 387.5h7M256.5 384v7M253 380.5h7M256.5 377v7M253 382.5h7M256.5 379v7M254 385.5h7M257.5 382v7M254 386.5h7M257.5 383v7M254 390.5h7M257.5 387v7M254 393.5h7M257.5 390v7M254 379.5h7M257.5 376v7M254 391.5h7M257.5 388v7M254 388.5h7M257.5 385v7M254 390.5h7M257.5 387v7M255 392.5h7M258.5 389v7M255 383.5h7M258.5 380v7M255 384.5h7M258.5 381v7M255 387.5h7M258.5 384v7M255 389.5h7M258.5 386v7M255 384.5h7M258.5 381v7M255 387.5h7M258.5 384v7M255 389.5h7M258.5 386v7M256 387.5h7M259.5 384v7M256 387.5h7M259.5 384v7M256 388.5h7M259.5 385v7M256 389.5h7M259.5 386v7M256 386.5h7M259.5 383v7M256 381.5h7M259.5 378v7M256 390.5h7M259.5 387v7M256 392.5h7M259.5 389v7M257 390.5h7M260.5 387v7M257 389.5h7M260.5 386v7M257 376.5h7M260.5 373v7M257 385.5h7M260.5 382v7M257 389.5h7M260.5 386v7M257 377.5h7M260.5 374v7M257 391.5h7M260.5 388v7M258 387.5h7M261.5 384v7M258 389.5h7M261.5 386v7M258 387.5h7M261.5 384v7M258 388.5h7M261.5 385v7M258 386.5h7M261.5 383v7M258 391.5h7M261.5 388v7M258 389.5h7M261.5 386v7M258 393.5h7M261.5 390v7M259 392.5h7M262.5 389v7M259 387.5h7M262.5 384v7M259 378.5h7M262.5 375v7M259 392.5h7M262.5 389v7M259 389.5h7M262.5 386v7M259 387.5h7M262.5 384v7M259 396.5h7M262.5 393v7M259 384.5h7M262.5 381v7M260 386.5h7M263.5 383v7M260 389.5h7M263.5 386v7M260 393.5h7M263.5 390v7M260 388.5h7M263.5 385v7M260 379.5h7M263.5 376v7M260 393.5h7M263.5 390v7M260 382.5h7M263.5 379v7M260 388.5h7M263.5 385v7M261 389.5h7M264.5 386v7M261 389.5h7M264.5 386v7M261 392.5h7M264.5 389v7M261 386.5h7M264.5 383v7M261 385.5h7M264.5 382v7M261 385.5h7M264.5 382v7M261 385.5h7M264.5 382v7M261 383.5h7M264.5 380v7M262 383.5h7M265.5 380v7M262 390.5h7M265.5 387v7M262 380.5h7M265.5 377v7M262 377.5h7M265.5 374v7M262 391.5h7M265.5 388v7M262 388.5h7M265.5 385v7M262 390.5h7M265.5 387v7M263 384.5h7M266.5 381v7M263 388.5h7M266.5 385v7M263 388.5h7M266.5 385v7M263 383.5h7M266.5 380v7M263 382.5h7M266.5 379v7M263 392.5h7M266.5 389v7M263 386.5h7M266.5 383v7M263 391.5h7M266.5 388v7M264 391.5h7M267.5 388v7M264 375.5h7M267.5 372v7M264 377.5h7M267.5 374v7M264 382.5h7M267.5 379v7M264 390.5h7M267.5 387v7M264 391.5h7M267.5 388v7M264 391.5h7M267.5 388v7M264 385.5h7M267.5 382v7M265 375.5h7M268.5 372v7M265 385.5h7M268.5 382v7M265 384.5h7M268.5 381v7M265 385.5h7M268.5 382v7M265 395.5h7M268.5 392v7M265 383.5h7M268.5 380v7M265 383.5h7M268.5 380v7M265 389.5h7M268.5 386v7M266 387.5h7M269.5 384v7M266 392.5h7M269.5 389v7M266 387.5h7M269.5 384v7M266 389.5h7M269.5 386v7M266 387.5h7M269.5 384v7M266 391.5h7M269.5 388v7M266 391.5h7M269.5 388v7M266 386.5h7M269.5 383v7M267 387.5h7M270.5 384v7M267 385.5h7M270.5 382v7M267 391.5h7M270.5 388v7M267 390.5h7M270.5 387v7M267 384.5h7M270.5 381v7M267 388.5h7M270.5 385v7M267 390.5h7M270.5 387v7M267 385.5h7M270.5 382v7M268 385.5h7M271.5 382v7M268 391.5h7M271.5 388v7M268 381.5h7M271.5 378v7M268 389.5h7M271.5 386v7M268 389.5h7M271.5 386v7M268 394.5h7M271.5 391v7M268 385.5h7M271.5 382v7M269 380.5h7M272.5 377v7M269 384.5h7M272.5 381v7M269 390.5h7M272.5 387v7M269 392.5h7M272.5 389v7M269 389.5h7M272.5 386v7M269 388.5h7M272.5 385v7M269 381.5h7M272.5 378v7M269 390.5h7M272.5 387v7M270 388.5h7M273.5 385v7M270 387.5h7M273.5 384v7M270 387.5h7M273.5 384v7M270 387.5h7M273.5 384v7M270 385.5h7M273.5 382v7M270 390.5h7M273.5 387v7M270 385.5h7M273.5 382v7M270 387.5h7M273.5 384v7M271 387.5h7M274.5 384v7M271 386.5h7M274.5 383v7M271 390.5h7M274.5 387v7M271 392.5h7M274.5 389v7M271 374.5h7M274.5 371v7M271 388.5h7M274.5 385v7M271 384.5h7M274.5 381v7M271 389.5h7M274.5 386v7M272 394.5h7M275.5 391v7M272 394.5h7M275.5 391v7M272 389.5h7M275.5 386v7M272 393.5h7M275.5 390v7M272 389.5h7M275.5 386v7M272 386.5h7M275.5 383v7M272 389.5h7M275.5 386v7M272 380.5h7M275.5 377v7M273 392.5h7M276.5 389v7M273 391.5h7M276.5 388v7M273 380.5h7M276.5 377v7M273 382.5h7M276.5 379v7M273 381.5h7M276.5 378v7M273 385.5h7M276.5 382v7M273 390.5h7M276.5 387v7M274 392.5h7M277.5 389v7M274 387.5h7M277.5 384v7M274 383.5h7M277.5 380v7M274 390.5h7M277.5 387v7M274 385.5h7M277.5 382v7M274 386.5h7M277.5 383v7M274 388.5h7M277.5 385v7M274 378.5h7M277.5 375v7M275 386.5h7M278.5 383v7M275 384.5h7M278.5 381v7M275 385.5h7M278.5 382v7M275 390.5h7M278.5 387v7M275 386.5h7M278.5 383v7M275 390.5h7M278.5 387v7M275 389.5h7M278.5 386v7M275 388.5h7M278.5 385v7M276 380.5h7M279.5 377v7M276 389.5h7M279.5 386v7M276 391.5h7M279.5 388v7M276 391.5h7M279.5 388v7M276 389.5h7M279.5 386v7M276 391.5h7M279.5 388v7M276 391.5h7M279.5 388v7M276 382.5h7M279.5 379v7M277 389.5h7M280.5 386v7M277 387.5h7M280.5 384v7M277 390.5h7M280.5 387v7M277 392.5h7M280.5 389v7M277 391.5h7M280.5 388v7M277 392.5h7M280.5 389v7M277 384.5h7M280.5 381v7M277 386.5h7M280.5 383v7M278 387.5h7M281.5 384v7M278 388.5h7M281.5 385v7M278 389.5h7M281.5 386v7M278 386.5h7M281.5 383v7M278 388.5h7M281.5 385v7M278 390.5h7M281.5 387v7M278 387.5h7M281.5 384v7M279 390.5h7M282.5 387v7M279 393.5h7M282.5 390v7M279 390.5h7M282.5 387v7M279 389.5h7M282.5 386v7M279 388.5h7M282.5 385v7M279 387.5h7M282.5 384v7M279 394.5h7M282.5 391v7M279 392.5h7M282.5 389v7M280 391.5h7M283.5 388v7M280 391.5h7M283.5 388v7M280 384.5h7M283.5 381v7M280 384.5h7M283.5 381v7M280 390.5h7M283.5 387v7M280 390.5h7M283.5 387v7M280 385.5h7M283.5 382v7M280 382.5h7M283.5 379v7M281 379.5h7M284.5 376v7M281 388.5h7M284.5 385v7M281 390.5h7M284.5 387v7M281 387.5h7M284.5 384v7M281 389.5h7M284.5 386v7M281 388.5h7M284.5 385v7M281 389.5h7M284.5 386v7M281 387.5h7M284.5 384v7M282 392.5h7M285.5 389v7M282 387.5h7M285.5 384v7M282 379.5h7M285.5 376v7M282 381.5h7M285.5 378v7M282 385.5h7M285.5 382v7M282 381.5h7M285.5 378v7M282 391.5h7M285.5 388v7M282 392.5h7M285.5 389v7M283 379.5h7M286.5 376v7M283 383.5h7M286.5 380v7M283 386.5h7M286.5 383v7M283 389.5h7M286.5 386v7M283 389.5h7M286.5 386v7M283 384.5h7M286.5 381v7M283 391.5h7M286.5 388v7M283 392.5h7M286.5 389v7M284 388.5h7M287.5 385v7M284 382.5h7M287.5 379v7M284 385.5h7M287.5 382v7M284 393.5h7M287.5 390v7M284 378.5h7M287.5 375v7M284 390.5h7M287.5 387v7M284 391.5h7M287.5 388v7M285 381.5h7M288.5 378v7M285 384.5h7M288.5 381v7M285 386.5h7M288.5 383v7M285 393.5h7M288.5 390v7M285 389.5h7M288.5 386v7M285 391.5h7M288.5 388v7M285 373.5h7M288.5 370v7M285 386.5h7M288.5 383v7M286 387.5h7M289.5 384v7M286 385.5h7M289.5 382v7M286 390.5h7M289.5 387v7M286 384.5h7M289.5 381v7M286 390.5h7M289.5 387v7M286 386.5h7M289.5 383v7M286 391.5h7M289.5 388v7M286 381.5h7M289.5 378v7M287 388.5h7M290.5 385v7M287 390.5h7M290.5 387v7M287 383.5h7M290.5 380v7M287 384.5h7M290.5 381v7M287 391.5h7M290.5 388v7M287 388.5h7M290.5 385v7M287 379.5h7M290.5 376v7M287 381.5h7M290.5 378v7M288 386.5h7M291.5 383v7M288 390.5h7M291.5 387v7M288 391.5h7M291.5 388v7M288 393.5h7M291.5 390v7M288 391.5h7M291.5 388v7M288 393.5h7M291.5 390v7M288 381.5h7M291.5 378v7M288 380.5h7M291.5 377v7M289 384.5h7M292.5 381v7M289 383.5h7M292.5 380v7M289 383.5h7M292.5 380v7M289 390.5h7M292.5 387v7M289 389.5h7M292.5 386v7M289 390.5h7M292.5 387v7M289 388.5h7M292.5 385v7M290 381.5h7M293.5 378v7M290 386.5h7M293.5 383v7M290 377.5h7M293.5 374v7M290 390.5h7M293.5 387v7M290 376.5h7M293.5 373v7M290 384.5h7M293.5 381v7M290 391.5h7M293.5 388v7M290 385.5h7M293.5 382v7M291 388.5h7M294.5 385v7M291 381.5h7M294.5 378v7M291 389.5h7M294.5 386v7M291 376.5h7M294.5 373v7M291 391.5h7M294.5 388v7M291 392.5h7M294.5 389v7M291 389.5h7M294.5 386v7M291 381.5h7M294.5 378v7M292 381.5h7M295.5 378v7M292 388.5h7M295.5 385v7M292 385.5h7M295.5 382v7M292 378.5h7M295.5 375v7M292 390.5h7M295.5 387v7M292 391.5h7M295.5 388v7M292 386.5h7M295.5 383v7M292 387.5h7M295.5 384v7M293 384.5h7M296.5 381v7M293 389.5h7M296.5 386v7M293 390.5h7M296.5 387v7M293 387.5h7M296.5 384v7M293 379.5h7M296.5 376v7M293 388.5h7M296.5 385v7M293 385.5h7M296.5 382v7M293 387.5h7M296.5 384v7M294 389.5h7M297.5 386v7M294 387.5h7M297.5 384v7M294 384.5h7M297.5 381v7M294 390.5h7M297.5 387v7M294 389.5h7M297.5 386v7M294 384.5h7M297.5 381v7M294 392.5h7M297.5 389v7M295 386.5h7M298.5 383v7M295 386.5h7M298.5 383v7M295 384.5h7M298.5 381v7M295 387.5h7M298.5 384v7M295 388.5h7M298.5 385v7M295 388.5h7M298.5 385v7M295 374.5h7M298.5 371v7M295 385.5h7M298.5 382v7M296 388.5h7M299.5 385v7M296 386.5h7M299.5 383v7M296 384.5h7M299.5 381v7M296 390.5h7M299.5 387v7M296 380.5h7M299.5 377v7M296 381.5h7M299.5 378v7M296 386.5h7M299.5 383v7M296 383.5h7M299.5 380v7M297 384.5h7M300.5 381v7M297 389.5h7M300.5 386v7M297 376.5h7M300.5 373v7M297 383.5h7M300.5 380v7M297 385.5h7M300.5 382v7M297 381.5h7M300.5 378v7M297 391.5h7M300.5 388v7M297 388.5h7M300.5 385v7M298 385.5h7M301.5 382v7M298 384.5h7M301.5 381v7M298 375.5h7M301.5 372v7M298 385.5h7M301.5 382v7M298 384.5h7M301.5 381v7M298 387.5h7M301.5 384v7M298 390.5h7M301.5 387v7M298 390.5h7M301.5 387v7M299 389.5h7M302.5 386v7M299 391.5h7M302.5 388v7M299 393.5h7M302.5 390v7M299 387.5h7M302.5 384v7M299 393.5h7M302.5 390v7M299 391.5h7M302.5 388v7M299 389.5h7M302.5 386v7M299 388.5h7M302.5 385v7M300 387.5h7M303.5 384v7M300 382.5h7M303.5 379v7M300 394.5h7M303.5 391v7M300 388.5h7M303.5 385v7M300 391.5h7M303.5 388v7M300 384.5h7M303.5 381v7M300 386.5h7M303.5 383v7M301 376.5h7M304.5 373v7M301 384.5h7M304.5 381v7M301 389.5h7M304.5 386v7M301 374.5h7M304.5 371v7M301 387.5h7M304.5 384v7M301 387.5h7M304.5 384v7M301 385.5h7M304.5 382v7M301 380.5h7M304.5 377v7M302 389.5h7M305.5 386v7M302 389.5h7M305.5 386v7M302 380.5h7M305.5 377v7M302 387.5h7M305.5 384v7M302 383.5h7M305.5 380v7M302 387.5h7M305.5 384v7M302 391.5h7M305.5 388v7M302 387.5h7M305.5 384v7M303 389.5h7M306.5 386v7M303 379.5h7M306.5 376v7M303 383.5h7M306.5 380v7M303 390.5h7M306.5 387v7M303 389.5h7M306.5 386v7M303 382.5h7M306.5 379v7M303 384.5h7M306.5 381v7M303 388.5h7M306.5 385v7M304 382.5h7M307.5 379v7M304 385.5h7M307.5 382v7M304 389.5h7M307.5 386v7M304 386.5h7M307.5 383v7M304 386.5h7M307.5 383v7M304 385.5h7M307.5 382v7M304 385.5h7M307.5 382v7M304 388.5h7M307.5 385v7M305 393.5h7M308.5 390v7M305 392.5h7M308.5 389v7M305 388.5h7M308.5 385v7M305 382.5h7M308.5 379v7M305 392.5h7M308.5 389v7M305 383.5h7M308.5 380v7M305 385.5h7M308.5 382v7M306 385.5h7M309.5 382v7M306 373.5h7M309.5 370v7M306 387.5h7M309.5 384v7M306 384.5h7M309.5 381v7M306 381.5h7M309.5 378v7M306 381.5h7M309.5 378v7M306 388.5h7M309.5 385v7M306 391.5h7M309.5 388v7M307 390.5h7M310.5 387v7M307 387.5h7M310.5 384v7M307 392.5h7M310.5 389v7M307 394.5h7M310.5 391v7M307 392.5h7M310.5 389v7M307 390.5h7M310.5 387v7M307 390.5h7M310.5 387v7M307 388.5h7M310.5 385v7M308 384.5h7M311.5 381v7M308 380.5h7M311.5 377v7M308 389.5h7M311.5 386v7M308 388.5h7M311.5 385v7M308 384.5h7M311.5 381v7M308 382.5h7M311.5 379v7M308 386.5h7M311.5 383v7M308 389.5h7M311.5 386v7M309 380.5h7M312.5 377v7M309 385.5h7M312.5 382v7M309 379.5h7M312.5 376v7M309 389.5h7M312.5 386v7M309 393.5h7M312.5 390v7M309 391.5h7M312.5 388v7M309 392.5h7M312.5 389v7M309 388.5h7M312.5 385v7M310 383.5h7M313.5 380v7M310 379.5h7M313.5 376v7M310 388.5h7M313.5 385v7M310 391.5h7M313.5 388v7M310 377.5h7M313.5 374v7M310 388.5h7M313.5 385v7M310 375.5h7M313.5 372v7M311 382.5h7M314.5 379v7M311 383.5h7M314.5 380v7M311 388.5h7M314.5 385v7M311 379.5h7M314.5 376v7M311 391.5h7M314.5 388v7M311 387.5h7M314.5 384v7M311 392.5h7M314.5 389v7M311 383.5h7M314.5 380v7M312 387.5h7M315.5 384v7M312 384.5h7M315.5 381v7M312 392.5h7M315.5 389v7M312 388.5h7M315.5 385v7M312 386.5h7M315.5 383v7M312 386.5h7M315.5 383v7M312 384.5h7M315.5 381v7M312 391.5h7M315.5 388v7M313 391.5h7M316.5 388v7M313 388.5h7M316.5 385v7M313 374.5h7M316.5 371v7M313 383.5h7M316.5 380v7M313 383.5h7M316.5 380v7M313 390.5h7M316.5 387v7M313 390.5h7M316.5 387v7M313 390.5h7M316.5 387v7M314 381.5h7M317.5 378v7M314 390.5h7M317.5 387v7M314 389.5h7M317.5 386v7M314 386.5h7M317.5 383v7M314 387.5h7M317.5 384v7M314 382.5h7M317.5 379v7M314 391.5h7M317.5 388v7M314 385.5h7M317.5 382v7M315 389.5h7M318.5 386v7M315 384.5h7M318.5 381v7M315 385.5h7M318.5 382v7M315 390.5h7M318.5 387v7M315 387.5h7M318.5 384v7M315 389.5h7M318.5 386v7M315 388.5h7M318.5 385v7M315 387.5h7M318.5 384v7M316 390.5h7M319.5 387v7M316 389.5h7M319.5 386v7M316 393.5h7M319.5 390v7M316 390.5h7M319.5 387v7M316 389.5h7M319.5 386v7M316 388.5h7M319.5 385v7M316 384.5h7M319.5 381v7M317 378.5h7M320.5 375v7M317 393.5h7M320.5 390v7M317 391.5h7M320.5 388v7M317 389.5h7M320.5 386v7M317 384.5h7M320.5 381v7M317 391.5h7M320.5 388v7M317 388.5h7M320.5 385v7M317 392.5h7M320.5 389v7M318 390.5h7M321.5 387v7M318 386.5h7M321.5 383v7M318 382.5h7M321.5 379v7M318 391.5h7M321.5 388v7M318 392.5h7M321.5 389v7M318 392.5h7M321.5 389v7M318 379.5h7M321.5 376v7M318 386.5h7M321.5 383v7M319 383.5h7M322.5 380v7M319 390.5h7M322.5 387v7M319 392.5h7M322.5 389v7M319 392.5h7M322.5 389v7M319 387.5h7M322.5 384v7M319 389.5h7M322.5 386v7M319 390.5h7M322.5 387v7M319 381.5h7M322.5 378v7M320 390.5h7M323.5 387v7M320 386.5h7M323.5 383v7M320 391.5h7M323.5 388v7M320 393.5h7M323.5 390v7M320 387.5h7M323.5 384v7M320 389.5h7M323.5 386v7M320 395.5h7M323.5 392v7M320 387.5h7M323.5 384v7M321 391.5h7M324.5 388v7M321 393.5h7M324.5 390v7M321 376.5h7M324.5 373v7M321 390.5h7M324.5 387v7M321 388.5h7M324.5 385v7M321 393.5h7M324.5 390v7M321 391.5h7M324.5 388v7M322 387.5h7M325.5 384v7M322 380.5h7M325.5 377v7M322 388.5h7M325.5 385v7M322 386.5h7M325.5 383v7M322 388.5h7M325.5 385v7M322 385.5h7M325.5 382v7M322 384.5h7M325.5 381v7M322 388.5h7M325.5 385v7M323 390.5h7M326.5 387v7M323 385.5h7M326.5 382v7M323 389.5h7M326.5 386v7M323 390.5h7M326.5 387v7M323 384.5h7M326.5 381v7M323 388.5h7M326.5 385v7M323 386.5h7M326.5 383v7M323 384.5h7M326.5 381v7M324 386.5h7M327.5 383v7M324 383.5h7M327.5 380v7M324 391.5h7M327.5 388v7M324 383.5h7M327.5 380v7M324 386.5h7M327.5 383v7M324 390.5h7M327.5 387v7M324 390.5h7M327.5 387v7M324 393.5h7M327.5 390v7M325 386.5h7M328.5 383v7M325 389.5h7M328.5 386v7M325 389.5h7M328.5 386v7M325 390.5h7M328.5 387v7M325 391.5h7M328.5 388v7M325 390.5h7M328.5 387v7M325 375.5h7M328.5 372v7M325 376.5h7M328.5 373v7M326 393.5h7M329.5 390v7M326 390.5h7M329.5 387v7M326 389.5h7M329.5 386v7M326 390.5h7M329.5 387v7M326 385.5h7M329.5 382v7M326 390.5h7M329.5 387v7M326 388.5h7M329.5 385v7M327 391.5h7M330.5 388v7M327 378.5h7M330.5 375v7M327 375.5h7M330.5 372v7M327 393.5h7M330.5 390v7M327 391.5h7M330.5 388v7M327 392.5h7M330.5 389v7M327 380.5h7M330.5 377v7M327 387.5h7M330.5 384v7M328 392.5h7M331.5 389v7M328 381.5h7M331.5 378v7M328 379.5h7M331.5 376v7M328 390.5h7M331.5 387v7M328 389.5h7M331.5 386v7M328 391.5h7M331.5 388v7M328 392.5h7M331.5 389v7M328 387.5h7M331.5 384v7M329 389.5h7M332.5 386v7M329 392.5h7M332.5 389v7M329 376.5h7M332.5 373v7M329 388.5h7M332.5 385v7M329 384.5h7M332.5 381v7M329 388.5h7M332.5 385v7M329 383.5h7M332.5 380v7M329 387.5h7M332.5 384v7M330 387.5h7M333.5 384v7M330 390.5h7M333.5 387v7M330 394.5h7M333.5 391v7M330 391.5h7M333.5 388v7M330 391.5h7M333.5 388v7M330 390.5h7M333.5 387v7M330 393.5h7M333.5 390v7M330 389.5h7M333.5 386v7M331 389.5h7M334.5 386v7M331 388.5h7M334.5 385v7M331 391.5h7M334.5 388v7M331 386.5h7M334.5 383v7M331 392.5h7M334.5 389v7M331 390.5h7M334.5 387v7M331 395.5h7M334.5 392v7M331 391.5h7M334.5 388v7M332 383.5h7M335.5 380v7M332 388.5h7M335.5 385v7M332 391.5h7M335.5 388v7M332 383.5h7M335.5 380v7M332 384.5h7M335.5 381v7M332 389.5h7M335.5 386v7M332 393.5h7M335.5 390v7M333 382.5h7M336.5 379v7M333 388.5h7M336.5 385v7M333 386.5h7M336.5 383v7M333 387.5h7M336.5 384v7M333 390.5h7M336.5 387v7M333 393.5h7M336.5 390v7M333 382.5h7M336.5 379v7M333 385.5h7M336.5 382v7M334 385.5h7M337.5 382v7M334 387.5h7M337.5 384v7M334 387.5h7M337.5 384v7M334 385.5h7M337.5 382v7M334 388.5h7M337.5 385v7M334 383.5h7M337.5 380v7M334 385.5h7M337.5 382v7M334 391.5h7M337.5 388v7M335 380.5h7M338.5 377v7M335 374.5h7M338.5 371v7M335 391.5h7M338.5 388v7M335 385.5h7M338.5 382v7M335 384.5h7M338.5 381v7M335 387.5h7M338.5 384v7M335 391.5h7M338.5 388v7M335 391.5h7M338.5 388v7M336 390.5h7M339.5 387v7M336 386.5h7M339.5 383v7M336 389.5h7M339.5 386v7M336 384.5h7M339.5 381v7M336 392.5h7M339.5 389v7M336 390.5h7M339.5 387v7M336 392.5h7M339.5 389v7M336 385.5h7M339.5 382v7M337 382.5h7M340.5 379v7M337 391.5h7M340.5 388v7M337 389.5h7M340.5 386v7M337 387.5h7M340.5 384v7M337 389.5h7M340.5 386v7M337 385.5h7M340.5 382v7M337 390.5h7M340.5 387v7M338 388.5h7M341.5 385v7M338 393.5h7M341.5 390v7M338 388.5h7M341.5 385v7M338 384.5h7M341.5 381v7M338 389.5h7M341.5 386v7M338 381.5h7M341.5 378v7M338 394.5h7M341.5 391v7M338 394.5h7M341.5 391v7M339 383.5h7M342.5 380v7M339 382.5h7M342.5 379v7M339 387.5h7M342.5 384v7M339 392.5h7M342.5 389v7M339 381.5h7M342.5 378v7M339 383.5h7M342.5 380v7M339 385.5h7M342.5 382v7M339 378.5h7M342.5 375v7M340 383.5h7M343.5 380v7M340 378.5h7M343.5 375v7M340 391.5h7M343.5 388v7M340 385.5h7M343.5 382v7M340 388.5h7M343.5 385v7M340 389.5h7M343.5 386v7M340 386.5h7M343.5 383v7M340 391.5h7M343.5 388v7M341 387.5h7M344.5 384v7M341 379.5h7M344.5 376v7M341 392.5h7M344.5 389v7M341 383.5h7M344.5 380v7M341 380.5h7M344.5 377v7M341 391.5h7M344.5 388v7M341 383.5h7M344.5 380v7M341 387.5h7M344.5 384v7M342 379.5h7M345.5 376v7M342 392.5h7M345.5 389v7M342 385.5h7M345.5 382v7M342 386.5h7M345.5 383v7M342 394.5h7M345.5 391v7M342 390.5h7M345.5 387v7M342 394.5h7M345.5 391v7M343 393.5h7M346.5 390v7M343 391.5h7M346.5 388v7M343 391.5h7M346.5 388v7M343 392.5h7M346.5 389v7M343 387.5h7M346.5 384v7M343 387.5h7M346.5 384v7M343 392.5h7M346.5 389v7M343 383.5h7M346.5 380v7M344 384.5h7M347.5 381v7M344 383.5h7M347.5 380v7M344 387.5h7M347.5 384v7M344 391.5h7M347.5 388v7M344 386.5h7M347.5 383v7M344 381.5h7M347.5 378v7M344 389.5h7M347.5 386v7M344 382.5h7M347.5 379v7M345 386.5h7M348.5 383v7M345 391.5h7M348.5 388v7M345 378.5h7M348.5 375v7M345 384.5h7M348.5 381v7M345 384.5h7M348.5 381v7M345 379.5h7M348.5 376v7M345 394.5h7M348.5 391v7M345 378.5h7M348.5 375v7M346 391.5h7M349.5 388v7M346 391.5h7M349.5 388v7M346 389.5h7M349.5 386v7M346 387.5h7M349.5 384v7M346 389.5h7M349.5 386v7M346 384.5h7M349.5 381v7M346 380.5h7M349.5 377v7M346 387.5h7M349.5 384v7M347 388.5h7M350.5 385v7M347 382.5h7M350.5 379v7M347 391.5h7M350.5 388v7M347 389.5h7M350.5 386v7M347 391.5h7M350.5 388v7M347 391.5h7M350.5 388v7M347 373.5h7M350.5 370v7M347 385.5h7M350.5 382v7M348 385.5h7M351.5 382v7M348 387.5h7M351.5 384v7M348 379.5h7M351.5 376v7M348 386.5h7M351.5 383v7M348 388.5h7M351.5 385v7M348 385.5h7M351.5 382v7M348 379.5h7M351.5 376v7M349 374.5h7M352.5 371v7M349 388.5h7M352.5 385v7M349 385.5h7M352.5 382v7M349 388.5h7M352.5 385v7M349 392.5h7M352.5 389v7M349 391.5h7M352.5 388v7M349 385.5h7M352.5 382v7M349 388.5h7M352.5 385v7M350 390.5h7M353.5 387v7M350 385.5h7M353.5 382v7M350 379.5h7M353.5 376v7M350 389.5h7M353.5 386v7M350 393.5h7M353.5 390v7M350 390.5h7M353.5 387v7M350 389.5h7M353.5 386v7M350 392.5h7M353.5 389v7M351 391.5h7M354.5 388v7M351 393.5h7M354.5 390v7M351 383.5h7M354.5 380v7M351 389.5h7M354.5 386v7M351 388.5h7M354.5 385v7M351 389.5h7M354.5 386v7M351 391.5h7M354.5 388v7M351 389.5h7M354.5 386v7M352 382.5h7M355.5 379v7M352 386.5h7M355.5 383v7M352 386.5h7M355.5 383v7M352 378.5h7M355.5 375v7M352 390.5h7M355.5 387v7M352 388.5h7M355.5 385v7M352 384.5h7M355.5 381v7M352 377.5h7M355.5 374v7M353 386.5h7M356.5 383v7M353 389.5h7M356.5 386v7M353 392.5h7M356.5 389v7M353 390.5h7M356.5 387v7M353 382.5h7M356.5 379v7M353 384.5h7M356.5 381v7M353 393.5h7M356.5 390v7M354 382.5h7M357.5 379v7M354 390.5h7M357.5 387v7M354 384.5h7M357.5 381v7M354 386.5h7M357.5 383v7M354 391.5h7M357.5 388v7M354 391.5h7M357.5 388v7M354 385.5h7M357.5 382v7M354 373.5h7M357.5 370v7M355 380.5h7M358.5 377v7M355 393.5h7M358.5 390v7M355 387.5h7M358.5 384v7M355 391.5h7M358.5 388v7M355 391.5h7M358.5 388v7M355 394.5h7M358.5 391v7M355 387.5h7M358.5 384v7M355 393.5h7M358.5 390v7M356 389.5h7M359.5 386v7M356 381.5h7M359.5 378v7M356 393.5h7M359.5 390v7M356 390.5h7M359.5 387v7M356 389.5h7M359.5 386v7M356 392.5h7M359.5 389v7M356 393.5h7M359.5 390v7M356 391.5h7M359.5 388v7M357 393.5h7M360.5 390v7M357 389.5h7M360.5 386v7M357 392.5h7M360.5 389v7M357 392.5h7M360.5 389v7M357 379.5h7M360.5 376v7M357 383.5h7M360.5 380v7M357 388.5h7M360.5 385v7M357 385.5h7M360.5 382v7M358 389.5h7M361.5 386v7M358 392.5h7M361.5 389v7M358 370.5h7M361.5 367v7M358 385.5h7M361.5 382v7M358 391.5h7M361.5 388v7M358 388.5h7M361.5 385v7M358 384.5h7M361.5 381v7M359 387.5h7M362.5 384v7M359 387.5h7M362.5 384v7M359 387.5h7M362.5 384v7M359 389.5h7M362.5 386v7M359 392.5h7M362.5 389v7M359 390.5h7M362.5 387v7M359 389.5h7M362.5 386v7M359 393.5h7M362.5 390v7M360 388.5h7M363.5 385v7M360 390.5h7M363.5 387v7M360 387.5h7M363.5 384v7M360 389.5h7M363.5 386v7M360 386.5h7M363.5 383v7M360 388.5h7M363.5 385v7M360 388.5h7M363.5 385v7M360 390.5h7M363.5 387v7M361 377.5h7M364.5 374v7M361 388.5h7M364.5 385v7M361 391.5h7M364.5 388v7M361 391.5h7M364.5 388v7M361 388.5h7M364.5 385v7M361 390.5h7M364.5 387v7M361 388.5h7M364.5 385v7M361 384.5h7M364.5 381v7M362 386.5h7M365.5 383v7M362 393.5h7M365.5 390v7M362 381.5h7M365.5 378v7M362 388.5h7M365.5 385v7M362 389.5h7M365.5 386v7M362 387.5h7M365.5 384v7M362 390.5h7M365.5 387v7M362 384.5h7M365.5 381v7M363 393.5h7M366.5 390v7M363 384.5h7M366.5 381v7M363 380.5h7M366.5 377v7M363 389.5h7M366.5 386v7M363 386.5h7M366.5 383v7M363 392.5h7M366.5 389v7M363 389.5h7M366.5 386v7M363 385.5h7M366.5 382v7M364 384.5h7M367.5 381v7M364 386.5h7M367.5 383v7M364 390.5h7M367.5 387v7M364 387.5h7M367.5 384v7M364 391.5h7M367.5 388v7M364 382.5h7M367.5 379v7M364 394.5h7M367.5 391v7M365 390.5h7M368.5 387v7M365 379.5h7M368.5 376v7M365 393.5h7M368.5 390v7M365 390.5h7M368.5 387v7M365 387.5h7M368.5 384v7M365 390.5h7M368.5 387v7M365 385.5h7M368.5 382v7M365 387.5h7M368.5 384v7M366 384.5h7M369.5 381v7M366 390.5h7M369.5 387v7M366 391.5h7M369.5 388v7M366 385.5h7M369.5 382v7M366 389.5h7M369.5 386v7M366 387.5h7M369.5 384v7M366 384.5h7M369.5 381v7M366 391.5h7M369.5 388v7M367 387.5h7M370.5 384v7M367 387.5h7M370.5 384v7M367 390.5h7M370.5 387v7M367 391.5h7M370.5 388v7M367 390.5h7M370.5 387v7M367 389.5h7M370.5 386v7M367 385.5h7M370.5 382v7M367 387.5h7M370.5 384v7M368 390.5h7M371.5 387v7M368 387.5h7M371.5 384v7M368 382.5h7M371.5 379v7M368 381.5h7M371.5 378v7M368 386.5h7M371.5 383v7M368 390.5h7M371.5 387v7M368 389.5h7M371.5 386v7M368 389.5h7M371.5 386v7M369 391.5h7M372.5 388v7M369 389.5h7M372.5 386v7M369 389.5h7M372.5 386v7M369 382.5h7M372.5 379v7M369 391.5h7M372.5 388v7M369 386.5h7M372.5 383v7M369 385.5h7M372.5 382v7M370 388.5h7M373.5 385v7M370 382.5h7M373.5 379v7M370 383.5h7M373.5 380v7M370 388.5h7M373.5 385v7M370 390.5h7M373.5 387v7M370 390.5h7M373.5 387v7M370 384.5h7M373.5 381v7M370 384.5h7M373.5 381v7M371 382.5h7M374.5 379v7M371 382.5h7M374.5 379v7M371 392.5h7M374.5 389v7M371 387.5h7M374.5 384v7M371 391.5h7M374.5 388v7M371 389.5h7M374.5 386v7M371 389.5h7M374.5 386v7M371 389.5h7M374.5 386v7M372 387.5h7M375.5 384v7M372 383.5h7M375.5 380v7M372 390.5h7M375.5 387v7M372 381.5h7M375.5 378v7M372 387.5h7M375.5 384v7M372 384.5h7M375.5 381v7M372 375.5h7M375.5 372v7M372 390.5h7M375.5 387v7M373 395.5h7M376.5 392v7M373 389.5h7M376.5 386v7M373 392.5h7M376.5 389v7M373 390.5h7M376.5 387v7M373 386.5h7M376.5 383v7M373 387.5h7M376.5 384v7M373 381.5h7M376.5 378v7M373 392.5h7M376.5 389v7M374 383.5h7M377.5 380v7M374 389.5h7M377.5 386v7M374 384.5h7M377.5 381v7M374 392.5h7M377.5 389v7M374 387.5h7M377.5 384v7M374 390.5h7M377.5 387v7M374 387.5h7M377.5 384v7M375 393.5h7M378.5 390v7M375 380.5h7M378.5 377v7M375 391.5h7M378.5 388v7M375 386.5h7M378.5 383v7M375 390.5h7M378.5 387v7M375 385.5h7M378.5 382v7M375 391.5h7M378.5 388v7M375 390.5h7M378.5 387v7M376 382.5h7M379.5 379v7M376 391.5h7M379.5 388v7M376 392.5h7M379.5 389v7M376 386.5h7M379.5 383v7M376 383.5h7M379.5 380v7M376 389.5h7M379.5 386v7M376 390.5h7M379.5 387v7M376 389.5h7M379.5 386v7M377 385.5h7M380.5 382v7M377 385.5h7M380.5 382v7M377 388.5h7M380.5 385v7M377 385.5h7M380.5 382v7M377 386.5h7M380.5 383v7M377 390.5h7M380.5 387v7M377 391.5h7M380.5 388v7M377 389.5h7M380.5 386v7M378 383.5h7M381.5 380v7M378 384.5h7M381.5 381v7M378 392.5h7M381.5 389v7M378 392.5h7M381.5 389v7M378 388.5h7M381.5 385v7M378 385.5h7M381.5 382v7M378 392.5h7M381.5 389v7M378 383.5h7M381.5 380v7M379 390.5h7M382.5 387v7M379 385.5h7M382.5 382v7M379 390.5h7M382.5 387v7M379 384.5h7M382.5 381v7M379 391.5h7M382.5 388v7M379 389.5h7M382.5 386v7M379 388.5h7M382.5 385v7M379 388.5h7M382.5 385v7M380 377.5h7M383.5 374v7M380 390.5h7M383.5 387v7M380 380.5h7M383.5 377v7M380 392.5h7M383.5 389v7M380 381.5h7M383.5 378v7M380 387.5h7M383.5 384v7M380 387.5h7M383.5 384v7M381 393.5h7M384.5 390v7M381 390.5h7M384.5 387v7M381 392.5h7M384.5 389v7M381 388.5h7M384.5 385v7M381 383.5h7M384.5 380v7M381 391.5h7M384.5 388v7M381 382.5h7M384.5 379v7M381 384.5h7M384.5 381v7M382 384.5h7M385.5 381v7M382 387.5h7M385.5 384v7M382 387.5h7M385.5 384v7M382 387.5h7M385.5 384v7M382 389.5h7M385.5 386v7M382 381.5h7M385.5 378v7M382 387.5h7M385.5 384v7M382 390.5h7M385.5 387v7M383 394.5h7M386.5 391v7M383 393.5h7M386.5 390v7M383 391.5h7M386.5 388v7M383 393.5h7M386.5 390v7M383 387.5h7M386.5 384v7M383 386.5h7M386.5 383v7M383 374.5h7M386.5 371v7M383 393.5h7M386.5 390v7M384 391.5h7M387.5 388v7M384 377.5h7M387.5 374v7M384 386.5h7M387.5 383v7M384 386.5h7M387.5 383v7M384 390.5h7M387.5 387v7M384 390.5h7M387.5 387v7M384 390.5h7M387.5 387v7M384 386.5h7M387.5 383v7M385 390.5h7M388.5 387v7M385 385.5h7M388.5 382v7M385 388.5h7M388.5 385v7M385 390.5h7M388.5 387v7M385 391.5h7M388.5 388v7M385 378.5h7M388.5 375v7M385 377.5h7M388.5 374v7M386 391.5h7M389.5 388v7M386 392.5h7M389.5 389v7M386 377.5h7M389.5 374v7M386 389.5h7M389.5 386v7M386 384.5h7M389.5 381v7M386 385.5h7M389.5 382v7M386 384.5h7M389.5 381v7M386 392.5h7M389.5 389v7M387 385.5h7M390.5 382v7M387 393.5h7M390.5 390v7M387 388.5h7M390.5 385v7M387 392.5h7M390.5 389v7M387 393.5h7M390.5 390v7M387 393.5h7M390.5 390v7M387 388.5h7M390.5 385v7M387 388.5h7M390.5 385v7M388 390.5h7M391.5 387v7M388 386.5h7M391.5 383v7M388 392.5h7M391.5 389v7M388 391.5h7M391.5 388v7M388 388.5h7M391.5 385v7M388 376.5h7M391.5 373v7M388 381.5h7M391.5 378v7M388 390.5h7M391.5 387v7M389 378.5h7M392.5 375v7M389 387.5h7M392.5 384v7M389 384.5h7M392.5 381v7M389 389.5h7M392.5 386v7M389 391.5h7M392.5 388v7M389 390.5h7M392.5 387v7M389 380.5h7M392.5 377v7M389 390.5h7M392.5 387v7M390 390.5h7M393.5 387v7M390 389.5h7M393.5 386v7M390 386.5h7M393.5 383v7M390 386.5h7M393.5 383v7M390 385.5h7M393.5 382v7M390 384.5h7M393.5 381v7M390 384.5h7M393.5 381v7M391 383.5h7M394.5 380v7M391 391.5h7M394.5 388v7M391 384.5h7M394.5 381v7M391 380.5h7M394.5 377v7M391 392.5h7M394.5 389v7M391 386.5h7M394.5 383v7M391 390.5h7M394.5 387v7M391 380.5h7M394.5 377v7M392 391.5h7M395.5 388v7M392 390.5h7M395.5 387v7M392 389.5h7M395.5 386v7M392 387.5h7M395.5 384v7M392 390.5h7M395.5 387v7M392 391.5h7M395.5 388v7M392 389.5h7M395.5 386v7M392 390.5h7M395.5 387v7M393 389.5h7M396.5 386v7M393 388.5h7M396.5 385v7M393 388.5h7M396.5 385v7M393 387.5h7M396.5 384v7M393 387.5h7M396.5 384v7M393 389.5h7M396.5 386v7M393 389.5h7M396.5 386v7M393 391.5h7M396.5 388v7M394 391.5h7M397.5 388v7M394 393.5h7M397.5 390v7M394 389.5h7M397.5 386v7M394 388.5h7M397.5 385v7M394 386.5h7M397.5 383v7M394 385.5h7M397.5 382v7M394 391.5h7M397.5 388v7M394 390.5h7M397.5 387v7M395 389.5h7M398.5 386v7M395 383.5h7M398.5 380v7M395 376.5h7M398.5 373v7M395 389.5h7M398.5 386v7M395 386.5h7M398.5 383v7M395 390.5h7M398.5 387v7M395 391.5h7M398.5 388v7M395 392.5h7M398.5 389v7M396 386.5h7M399.5 383v7M396 384.5h7M399.5 381v7M396 392.5h7M399.5 389v7M396 383.5h7M399.5 380v7M396 385.5h7M399.5 382v7M396 393.5h7M399.5 390v7M396 391.5h7M399.5 388v7M397 391.5h7M400.5 388v7M397 391.5h7M400.5 388v7M397 389.5h7M400.5 386v7M397 381.5h7M400.5 378v7M397 384.5h7M400.5 381v7M397 387.5h7M400.5 384v7M397 389.5h7M400.5 386v7M397 389.5h7M400.5 386v7M398 392.5h7M401.5 389v7M398 392.5h7M401.5 389v7M398 389.5h7M401.5 386v7M398 380.5h7M401.5 377v7M398 382.5h7M401.5 379v7M398 388.5h7M401.5 385v7M398 382.5h7M401.5 379v7M398 384.5h7M401.5 381v7M399 374.5h7M402.5 371v7M399 389.5h7M402.5 386v7M399 389.5h7M402.5 386v7M399 375.5h7M402.5 372v7M399 387.5h7M402.5 384v7M399 392.5h7M402.5 389v7M399 389.5h7M402.5 386v7M399 387.5h7M402.5 384v7M400 386.5h7M403.5 383v7M400 382.5h7M403.5 379v7M400 390.5h7M403.5 387v7M400 387.5h7M403.5 384v7M400 384.5h7M403.5 381v7M400 395.5h7M403.5 392v7M400 379.5h7M403.5 376v7M400 388.5h7M403.5 385v7M401 383.5h7M404.5 380v7M401 387.5h7M404.5 384v7M401 392.5h7M404.5 389v7M401 383.5h7M404.5 380v7M401 388.5h7M404.5 385v7M401 388.5h7M404.5 385v7M401 384.5h7M404.5 381v7M402 389.5h7M405.5 386v7M402 384.5h7M405.5 381v7M402 391.5h7M405.5 388v7M402 391.5h7M405.5 388v7M402 384.5h7M405.5 381v7M402 393.5h7M405.5 390v7M402 387.5h7M405.5 384v7M402 388.5h7M405.5 385v7M403 387.5h7M406.5 384v7M403 389.5h7M406.5 386v7M403 391.5h7M406.5 388v7M403 389.5h7M406.5 386v7M403 392.5h7M406.5 389v7M403 392.5h7M406.5 389v7M403 391.5h7M406.5 388v7M403 387.5h7M406.5 384v7M404 392.5h7M407.5 389v7M404 386.5h7M407.5 383v7M404 389.5h7M407.5 386v7M404 388.5h7M407.5 385v7M404 387.5h7M407.5 384v7M404 388.5h7M407.5 385v7M404 382.5h7M407.5 379v7M404 390.5h7M407.5 387v7M405 376.5h7M408.5 373v7M405 385.5h7M408.5 382v7M405 386.5h7M408.5 383v7M405 392.5h7M408.5 389v7M405 387.5h7M408.5 384v7M405 386.5h7M408.5 383v7M405 388.5h7M408.5 385v7M405 382.5h7M408.5 379v7M406 375.5h7M409.5 372v7M406 390.5h7M409.5 387v7M406 379.5h7M409.5 376v7M406 391.5h7M409.5 388v7M406 388.5h7M409.5 385v7M406 391.5h7M409.5 388v7M406 392.5h7M409.5 389v7M407 388.5h7M410.5 385v7M407 377.5h7M410.5 374v7M407 390.5h7M410.5 387v7M407 384.5h7M410.5 381v7M407 383.5h7M410.5 380v7M407 390.5h7M410.5 387v7M407 387.5h7M410.5 384v7M407 389.5h7M410.5 386v7M408 386.5h7M411.5 383v7M408 380.5h7M411.5 377v7M408 389.5h7M411.5 386v7M408 391.5h7M411.5 388v7M408 390.5h7M411.5 387v7M408 391.5h7M411.5 388v7M408 390.5h7M411.5 387v7M408 389.5h7M411.5 386v7M409 374.5h7M412.5 371v7M409 394.5h7M412.5 391v7M409 391.5h7M412.5 388v7M409 385.5h7M412.5 382v7M409 384.5h7M412.5 381v7M409 392.5h7M412.5 389v7M409 391.5h7M412.5 388v7M409 387.5h7M412.5 384v7M410 385.5h7M413.5 382v7M410 389.5h7M413.5 386v7M410 380.5h7M413.5 377v7M410 389.5h7M413.5 386v7M410 393.5h7M413.5 390v7M410 392.5h7M413.5 389v7M410 388.5h7M413.5 385v7M410 389.5h7M413.5 386v7M411 390.5h7M414.5 387v7M411 391.5h7M414.5 388v7M411 390.5h7M414.5 387v7M411 392.5h7M414.5 389v7M411 382.5h7M414.5 379v7M411 381.5h7M414.5 378v7M411 385.5h7M414.5 382v7M411 378.5h7M414.5 375v7M412 389.5h7M415.5 386v7M412 385.5h7M415.5 382v7M412 392.5h7M415.5 389v7M412 386.5h7M415.5 383v7M412 393.5h7M415.5 390v7M412 381.5h7M415.5 378v7M412 379.5h7M415.5 376v7M413 394.5h7M416.5 391v7M413 392.5h7M416.5 389v7M413 376.5h7M416.5 373v7M413 387.5h7M416.5 384v7M413 391.5h7M416.5 388v7M413 388.5h7M416.5 385v7M413 387.5h7M416.5 384v7M413 391.5h7M416.5 388v7M414 384.5h7M417.5 381v7M414 382.5h7M417.5 379v7M414 391.5h7M417.5 388v7M414 385.5h7M417.5 382v7M414 392.5h7M417.5 389v7M414 388.5h7M417.5 385v7M414 388.5h7M417.5 385v7M414 394.5h7M417.5 391v7M415 392.5h7M418.5 389v7M415 390.5h7M418.5 387v7M415 386.5h7M418.5 383v7M415 388.5h7M418.5 385v7M415 385.5h7M418.5 382v7M415 394.5h7M418.5 391v7M415 389.5h7M418.5 386v7M415 386.5h7M418.5 383v7M416 386.5h7M419.5 383v7M416 391.5h7M419.5 388v7M416 391.5h7M419.5 388v7M416 391.5h7M419.5 388v7M416 392.5h7M419.5 389v7M416 392.5h7M419.5 389v7M416 385.5h7M419.5 382v7M416 391.5h7M419.5 388v7M417 390.5h7M420.5 387v7M417 393.5h7M420.5 390v7M417 395.5h7M420.5 392v7M417 392.5h7M420.5 389v7M417 385.5h7M420.5 382v7M417 380.5h7M420.5 377v7M417 383.5h7M420.5 380v7M418 391.5h7M421.5 388v7M418 392.5h7M421.5 389v7M418 387.5h7M421.5 384v7M418 378.5h7M421.5 375v7M418 388.5h7M421.5 385v7M418 387.5h7M421.5 384v7M418 381.5h7M421.5 378v7M418 391.5h7M421.5 388v7M419 385.5h7M422.5 382v7M419 390.5h7M422.5 387v7M419 390.5h7M422.5 387v7M419 384.5h7M422.5 381v7M419 389.5h7M422.5 386v7M419 391.5h7M422.5 388v7M419 389.5h7M422.5 386v7M419 392.5h7M422.5 389v7M420 387.5h7M423.5 384v7M420 382.5h7M423.5 379v7M420 390.5h7M423.5 387v7M420 390.5h7M423.5 387v7M420 378.5h7M423.5 375v7M420 389.5h7M423.5 386v7M420 391.5h7M423.5 388v7M420 388.5h7M423.5 385v7M421 385.5h7M424.5 382v7M421 389.5h7M424.5 386v7M421 383.5h7M424.5 380v7M421 392.5h7M424.5 389v7M421 383.5h7M424.5 380v7M421 389.5h7M424.5 386v7M421 390.5h7M424.5 387v7M421 387.5h7M424.5 384v7M422 387.5h7M425.5 384v7M422 392.5h7M425.5 389v7M422 392.5h7M425.5 389v7M422 389.5h7M425.5 386v7M422 393.5h7M425.5 390v7M422 389.5h7M425.5 386v7M422 390.5h7M425.5 387v7M423 388.5h7M426.5 385v7M423 388.5h7M426.5 385v7M423 377.5h7M426.5 374v7M423 387.5h7M426.5 384v7M423 392.5h7M426.5 389v7M423 386.5h7M426.5 383v7M423 384.5h7M426.5 381v7M423 387.5h7M426.5 384v7M424 389.5h7M427.5 386v7M424 381.5h7M427.5 378v7M424 395.5h7M427.5 392v7M424 387.5h7M427.5 384v7M424 389.5h7M427.5 386v7M424 391.5h7M427.5 388v7M424 395.5h7M427.5 392v7M424 391.5h7M427.5 388v7M425 392.5h7M428.5 389v7M425 377.5h7M428.5 374v7M425 384.5h7M428.5 381v7M425 391.5h7M428.5 388v7M425 392.5h7M428.5 389v7M425 392.5h7M428.5 389v7M425 386.5h7M428.5 383v7M425 391.5h7M428.5 388v7M426 392.5h7M429.5 389v7M426 388.5h7M429.5 385v7M426 389.5h7M429.5 386v7M426 391.5h7M429.5 388v7M426 387.5h7M429.5 384v7M426 386.5h7M429.5 383v7M426 376.5h7M429.5 373v7M426 384.5h7M429.5 381v7M427 390.5h7M430.5 387v7M427 383.5h7M430.5 380v7M427 385.5h7M430.5 382v7M427 383.5h7M430.5 380v7M427 382.5h7M430.5 379v7M427 382.5h7M430.5 379v7M427 388.5h7M430.5 385v7M427 393.5h7M430.5 390v7M428 387.5h7M431.5 384v7M428 381.5h7M431.5 378v7M428 387.5h7M431.5 384v7M428 388.5h7M431.5 385v7M428 392.5h7M431.5 389v7M428 388.5h7M431.5 385v7M428 392.5h7M431.5 389v7M429 392.5h7M432.5 389v7M429 389.5h7M432.5 386v7M429 393.5h7M432.5 390v7M429 395.5h7M432.5 392v7M429 390.5h7M432.5 387v7M429 393.5h7M432.5 390v7M429 391.5h7M432.5 388v7M429 393.5h7M432.5 390v7M430 393.5h7M433.5 390v7M430 393.5h7M433.5 390v7M430 386.5h7M433.5 383v7M430 387.5h7M433.5 384v7M430 391.5h7M433.5 388v7M430 390.5h7M433.5 387v7M430 391.5h7M433.5 388v7M430 386.5h7M433.5 383v7M431 391.5h7M434.5 388v7M431 382.5h7M434.5 379v7M431 391.5h7M434.5 388v7M431 392.5h7M434.5 389v7M431 390.5h7M434.5 387v7M431 390.5h7M434.5 387v7M431 386.5h7M434.5 383v7M431 390.5h7M434.5 387v7M432 379.5h7M435.5 376v7M432 389.5h7M435.5 386v7M432 388.5h7M435.5 385v7M432 382.5h7M435.5 379v7M432 385.5h7M435.5 382v7M432 391.5h7M435.5 388v7M432 391.5h7M435.5 388v7M432 387.5h7M435.5 384v7M433 384.5h7M436.5 381v7M433 388.5h7M436.5 385v7M433 390.5h7M436.5 387v7M433 390.5h7M436.5 387v7M433 382.5h7M436.5 379v7M433 389.5h7M436.5 386v7M433 391.5h7M436.5 388v7M434 394.5h7M437.5 391v7M434 388.5h7M437.5 385v7M434 388.5h7M437.5 385v7M434 376.5h7M437.5 373v7M434 379.5h7M437.5 376v7M434 376.5h7M437.5 373v7M434 382.5h7M437.5 379v7M434 385.5h7M437.5 382v7M435 391.5h7M438.5 388v7M435 391.5h7M438.5 388v7M435 382.5h7M438.5 379v7M435 388.5h7M438.5 385v7M435 387.5h7M438.5 384v7M435 390.5h7M438.5 387v7M435 383.5h7M438.5 380v7M435 389.5h7M438.5 386v7M436 390.5h7M439.5 387v7M436 393.5h7M439.5 390v7M436 393.5h7M439.5 390v7M436 386.5h7M439.5 383v7M436 384.5h7M439.5 381v7M436 392.5h7M439.5 389v7M436 388.5h7M439.5 385v7M436 392.5h7M439.5 389v7M437 391.5h7M440.5 388v7M437 382.5h7M440.5 379v7M437 389.5h7M440.5 386v7M437 383.5h7M440.5 380v7M437 392.5h7M440.5 389v7M437 392.5h7M440.5 389v7M437 385.5h7M440.5 382v7M437 384.5h7M440.5 381v7M438 386.5h7M441.5 383v7M438 391.5h7M441.5 388v7M438 386.5h7M441.5 383v7M438 381.5h7M441.5 378v7M438 388.5h7M441.5 385v7M438 393.5h7M441.5 390v7M438 388.5h7M441.5 385v7M439 382.5h7M442.5 379v7M439 381.5h7M442.5 378v7M439 383.5h7M442.5 380v7M439 392.5h7M442.5 389v7M439 387.5h7M442.5 384v7M439 389.5h7M442.5 386v7M439 383.5h7M442.5 380v7M439 390.5h7M442.5 387v7M440 383.5h7M443.5 380v7M440 390.5h7M443.5 387v7M440 391.5h7M443.5 388v7M440 386.5h7M443.5 383v7M440 390.5h7M443.5 387v7M440 393.5h7M443.5 390v7M440 392.5h7M443.5 389v7M440 389.5h7M443.5 386v7M441 392.5h7M444.5 389v7M441 386.5h7M444.5 383v7M441 388.5h7M444.5 385v7M441 390.5h7M444.5 387v7M441 381.5h7M444.5 378v7M441 385.5h7M444.5 382v7M441 392.5h7M444.5 389v7M441 382.5h7M444.5 379v7M442 391.5h7M445.5 388v7M442 388.5h7M445.5 385v7M442 386.5h7M445.5 383v7M442 392.5h7M445.5 389v7M442 391.5h7M445.5 388v7M442 391.5h7M445.5 388v7M442 382.5h7M445.5 379v7M442 391.5h7M445.5 388v7M443 388.5h7M446.5 385v7M443 389.5h7M446.5 386v7M443 392.5h7M446.5 389v7M443 392.5h7M446.5 389v7M443 376.5h7M446.5 373v7M443 375.5h7M446.5 372v7M443 391.5h7M446.5 388v7M443 389.5h7M446.5 386v7M444 388.5h7M447.5 385v7M444 389.5h7M447.5 386v7M444 390.5h7M447.5 387v7M444 385.5h7M447.5 382v7M444 390.5h7M447.5 387v7M444 391.5h7M447.5 388v7M444 391.5h7M447.5 388v7M445 388.5h7M448.5 385v7M445 387.5h7M448.5 384v7M445 383.5h7M448.5 380v7M445 387.5h7M448.5 384v7M445 386.5h7M448.5 383v7M445 389.5h7M448.5 386v7M445 386.5h7M448.5 383v7M445 391.5h7M448.5 388v7M446 382.5h7M449.5 379v7M446 392.5h7M449.5 389v7M446 393.5h7M449.5 390v7M446 376.5h7M449.5 373v7M446 392.5h7M449.5 389v7M446 383.5h7M449.5 380v7M446 392.5h7M449.5 389v7M446 390.5h7M449.5 387v7M447 391.5h7M450.5 388v7M447 393.5h7M450.5 390v7M447 388.5h7M450.5 385v7M447 394.5h7M450.5 391v7M447 388.5h7M450.5 385v7M447 386.5h7M450.5 383v7M447 395.5h7M450.5 392v7M447 392.5h7M450.5 389v7M448 392.5h7M451.5 389v7M448 388.5h7M451.5 385v7M448 390.5h7M451.5 387v7M448 392.5h7M451.5 389v7M448 385.5h7M451.5 382v7M448 381.5h7M451.5 378v7M448 386.5h7M451.5 383v7M448 390.5h7M451.5 387v7M449 392.5h7M452.5 389v7M449 392.5h7M452.5 389v7M449 390.5h7M452.5 387v7M449 388.5h7M452.5 385v7M449 394.5h7M452.5 391v7M449 393.5h7M452.5 390v7M449 376.5h7M452.5 373v7M450 393.5h7M453.5 390v7M450 388.5h7M453.5 385v7M450 394.5h7M453.5 391v7M450 389.5h7M453.5 386v7M450 389.5h7M453.5 386v7M450 391.5h7M453.5 388v7M450 385.5h7M453.5 382v7M450 392.5h7M453.5 389v7M451 389.5h7M454.5 386v7M451 393.5h7M454.5 390v7M451 390.5h7M454.5 387v7M451 381.5h7M454.5 378v7M451 389.5h7M454.5 386v7M451 382.5h7M454.5 379v7M451 393.5h7M454.5 390v7M451 392.5h7M454.5 389v7M452 389.5h7M455.5 386v7M452 392.5h7M455.5 389v7M452 390.5h7M455.5 387v7M452 388.5h7M455.5 385v7M452 384.5h7M455.5 381v7M452 389.5h7M455.5 386v7M452 387.5h7M455.5 384v7M452 391.5h7M455.5 388v7M453 395.5h7M456.5 392v7M453 386.5h7M456.5 383v7M453 386.5h7M456.5 383v7M453 390.5h7M456.5 387v7M453 384.5h7M456.5 381v7M453 388.5h7M456.5 385v7M453 391.5h7M456.5 388v7M453 390.5h7M456.5 387v7M454 394.5h7M457.5 391v7M454 388.5h7M457.5 385v7M454 390.5h7M457.5 387v7M454 390.5h7M457.5 387v7M454 389.5h7M457.5 386v7M454 390.5h7M457.5 387v7M454 390.5h7M457.5 387v7M455 388.5h7M458.5 385v7M455 394.5h7M458.5 391v7M455 386.5h7M458.5 383v7M455 390.5h7M458.5 387v7M455 382.5h7M458.5 379v7M455 381.5h7M458.5 378v7M455 389.5h7M458.5 386v7M455 385.5h7M458.5 382v7M456 387.5h7M459.5 384v7M456 373.5h7M459.5 370v7M456 393.5h7M459.5 390v7M456 389.5h7M459.5 386v7M456 395.5h7M459.5 392v7M456 392.5h7M459.5 389v7M456 393.5h7M459.5 390v7M456 393.5h7M459.5 390v7M457 391.5h7M460.5 388v7M457 391.5h7M460.5 388v7M457 389.5h7M460.5 386v7M457 385.5h7M460.5 382v7M457 392.5h7M460.5 389v7M457 392.5h7M460.5 389v7M457 390.5h7M460.5 387v7M457 385.5h7M460.5 382v7M458 392.5h7M461.5 389v7M458 394.5h7M461.5 391v7M458 388.5h7M461.5 385v7M458 392.5h7M461.5 389v7M458 385.5h7M461.5 382v7M458 381.5h7M461.5 378v7M458 389.5h7M461.5 386v7M458 386.5h7M461.5 383v7M459 386.5h7M462.5 383v7M459 382.5h7M462.5 379v7M459 391.5h7M462.5 388v7M459 392.5h7M462.5 389v7M459 385.5h7M462.5 382v7M459 393.5h7M462.5 390v7M459 392.5h7M462.5 389v7M459 394.5h7M462.5 391v7M460 392.5h7M463.5 389v7M460 391.5h7M463.5 388v7M460 393.5h7M463.5 390v7M460 392.5h7M463.5 389v7M460 389.5h7M463.5 386v7M460 384.5h7M463.5 381v7M460 389.5h7M463.5 386v7M461 392.5h7M464.5 389v7M461 392.5h7M464.5 389v7M461 388.5h7M464.5 385v7M461 386.5h7M464.5 383v7M461 390.5h7M464.5 387v7M461 388.5h7M464.5 385v7M461 382.5h7M464.5 379v7M461 388.5h7M464.5 385v7M462 389.5h7M465.5 386v7M462 392.5h7M465.5 389v7M462 384.5h7M465.5 381v7M462 384.5h7M465.5 381v7M462 393.5h7M465.5 390v7M462 389.5h7M465.5 386v7M462 389.5h7M465.5 386v7M462 386.5h7M465.5 383v7M463 388.5h7M466.5 385v7M463 390.5h7M466.5 387v7M463 388.5h7M466.5 385v7M463 390.5h7M466.5 387v7M463 389.5h7M466.5 386v7M463 394.5h7M466.5 391v7M463 389.5h7M466.5 386v7M463 380.5h7M466.5 377v7M464 394.5h7M467.5 391v7M464 393.5h7M467.5 390v7M464 386.5h7M467.5 383v7M464 375.5h7M467.5 372v7M464 392.5h7M467.5 389v7M464 384.5h7M467.5 381v7M464 380.5h7M467.5 377v7M464 395.5h7M467.5 392v7M465 389.5h7M468.5 386v7M465 394.5h7M468.5 391v7M465 391.5h7M468.5 388v7M465 384.5h7M468.5 381v7M465 378.5h7M468.5 375v7M465 389.5h7M468.5 386v7M465 394.5h7M468.5 391v7M466 391.5h7M469.5 388v7M466 379.5h7M469.5 376v7M466 385.5h7M469.5 382v7M466 385.5h7M469.5 382v7M466 389.5h7M469.5 386v7M466 390.5h7M469.5 387v7M466 392.5h7M469.5 389v7M466 388.5h7M469.5 385v7M467 390.5h7M470.5 387v7M467 386.5h7M470.5 383v7M467 388.5h7M470.5 385v7M467 389.5h7M470.5 386v7M467 393.5h7M470.5 390v7M467 385.5h7M470.5 382v7M467 392.5h7M470.5 389v7M467 387.5h7M470.5 384v7M468 392.5h7M471.5 389v7M468 390.5h7M471.5 387v7M468 390.5h7M471.5 387v7M468 380.5h7M471.5 377v7M468 391.5h7M471.5 388v7M468 389.5h7M471.5 386v7M468 392.5h7M471.5 389v7M468 387.5h7M471.5 384v7M469 390.5h7M472.5 387v7M469 383.5h7M472.5 380v7M469 393.5h7M472.5 390v7M469 388.5h7M472.5 385v7M469 389.5h7M472.5 386v7M469 391.5h7M472.5 388v7M469 392.5h7M472.5 389v7M469 386.5h7M472.5 383v7M470 389.5h7M473.5 386v7M470 390.5h7M473.5 387v7M470 384.5h7M473.5 381v7M470 387.5h7M473.5 384v7M470 387.5h7M473.5 384v7M470 393.5h7M473.5 390v7M470 389.5h7M473.5 386v7M471 384.5h7M474.5 381v7M471 385.5h7M474.5 382v7M471 389.5h7M474.5 386v7M471 390.5h7M474.5 387v7M471 385.5h7M474.5 382v7M471 390.5h7M474.5 387v7M471 393.5h7M474.5 390v7M471 391.5h7M474.5 388v7M472 378.5h7M475.5 375v7M472 391.5h7M475.5 388v7M472 386.5h7M475.5 383v7M472 378.5h7M475.5 375v7M472 389.5h7M475.5 386v7M472 391.5h7M475.5 388v7M472 392.5h7M475.5 389v7M472 393.5h7M475.5 390v7M473 394.5h7M476.5 391v7M473 381.5h7M476.5 378v7M473 391.5h7M476.5 388v7M473 387.5h7M476.5 384v7M473 392.5h7M476.5 389v7M473 389.5h7M476.5 386v7M473 386.5h7M476.5 383v7M473 393.5h7M476.5 390v7M474 390.5h7M477.5 387v7M474 389.5h7M477.5 386v7M474 388.5h7M477.5 385v7M474 391.5h7M477.5 388v7M474 388.5h7M477.5 385v7M474 387.5h7M477.5 384v7M474 391.5h7M477.5 388v7M474 386.5h7M477.5 383v7M475 391.5h7M478.5 388v7M475 390.5h7M478.5 387v7M475 392.5h7M478.5 389v7M475 385.5h7M478.5 382v7M475 390.5h7M478.5 387v7M475 392.5h7M478.5 389v7M475 386.5h7M478.5 383v7M475 383.5h7M478.5 380v7M476 390.5h7M479.5 387v7M476 392.5h7M479.5 389v7M476 382.5h7M479.5 379v7M476 390.5h7M479.5 387v7M476 389.5h7M479.5 386v7M476 381.5h7M479.5 378v7M476 392.5h7M479.5 389v7M477 389.5h7M480.5 386v7M477 388.5h7M480.5 385v7M477 393.5h7M480.5 390v7M477 390.5h7M480.5 387v7M477 391.5h7M480.5 388v7M477 390.5h7M480.5 387v7M477 389.5h7M480.5 386v7M477 391.5h7M480.5 388v7M478 394.5h7M481.5 391v7M478 392.5h7M481.5 389v7M478 393.5h7M481.5 390v7M478 384.5h7M481.5 381v7M478 390.5h7M481.5 387v7M478 384.5h7M481.5 381v7M478 383.5h7M481.5 380v7M478 381.5h7M481.5 378v7M479 387.5h7M482.5 384v7M479 392.5h7M482.5 389v7M479 387.5h7M482.5 384v7M479 377.5h7M482.5 374v7M479 391.5h7M482.5 388v7M479 390.5h7M482.5 387v7M479 392.5h7M482.5 389v7M479 390.5h7M482.5 387v7M480 391.5h7M483.5 388v7M480 388.5h7M483.5 385v7M480 393.5h7M483.5 390v7M480 388.5h7M483.5 385v7M480 393.5h7M483.5 390v7M480 387.5h7M483.5 384v7M480 391.5h7M483.5 388v7M480 390.5h7M483.5 387v7M481 388.5h7M484.5 385v7M481 390.5h7M484.5 387v7M481 391.5h7M484.5 388v7M481 387.5h7M484.5 384v7M481 391.5h7M484.5 388v7M481 386.5h7M484.5 383v7M481 387.5h7M484.5 384v7M482 393.5h7M485.5 390v7M482 380.5h7M485.5 377v7M482 391.5h7M485.5 388v7M482 391.5h7M485.5 388v7M482 391.5h7M485.5 388v7M482 388.5h7M485.5 385v7M482 391.5h7M485.5 388v7M482 389.5h7M485.5 386v7M483 387.5h7M486.5 384v7M483 390.5h7M486.5 387v7M483 391.5h7M486.5 388v7M483 391.5h7M486.5 388v7M483 388.5h7M486.5 385v7M483 393.5h7M486.5 390v7M483 386.5h7M486.5 383v7M483 394.5h7M486.5 391v7M484 382.5h7M487.5 379v7M484 377.5h7M487.5 374v7M484 389.5h7M487.5 386v7M484 386.5h7M487.5 383v7M484 387.5h7M487.5 384v7M484 391.5h7M487.5 388v7M484 388.5h7M487.5 385v7M484 390.5h7M487.5 387v7M485 391.5h7M488.5 388v7M485 388.5h7M488.5 385v7M485 389.5h7M488.5 386v7M485 390.5h7M488.5 387v7M485 391.5h7M488.5 388v7M485 387.5h7M488.5 384v7M485 384.5h7M488.5 381v7M485 392.5h7M488.5 389v7M486 387.5h7M489.5 384v7M486 384.5h7M489.5 381v7M486 376.5h7M489.5 373v7M486 389.5h7M489.5 386v7M486 388.5h7M489.5 385v7M486 394.5h7M489.5 391v7M486 383.5h7M489.5 380v7M487 392.5h7M490.5 389v7M487 384.5h7M490.5 381v7M487 389.5h7M490.5 386v7M487 386.5h7M490.5 383v7M487 391.5h7M490.5 388v7M487 387.5h7M490.5 384v7M487 391.5h7M490.5 388v7M487 390.5h7M490.5 387v7M488 374.5h7M491.5 371v7M488 395.5h7M491.5 392v7M488 389.5h7M491.5 386v7M488 386.5h7M491.5 383v7M488 391.5h7M491.5 388v7M488 376.5h7M491.5 373v7M488 386.5h7M491.5 383v7M488 390.5h7M491.5 387v7M489 390.5h7M492.5 387v7M489 395.5h7M492.5 392v7M489 392.5h7M492.5 389v7M489 385.5h7M492.5 382v7M489 375.5h7M492.5 372v7M489 382.5h7M492.5 379v7M489 388.5h7M492.5 385v7M489 381.5h7M492.5 378v7M490 387.5h7M493.5 384v7M490 393.5h7M493.5 390v7M490 394.5h7M493.5 391v7M490 387.5h7M493.5 384v7M490 390.5h7M493.5 387v7M490 390.5h7M493.5 387v7M490 385.5h7M493.5 382v7M490 387.5h7M493.5 384v7M491 389.5h7M494.5 386v7M491 393.5h7M494.5 390v7M491 388.5h7M494.5 385v7M491 392.5h7M494.5 389v7M491 386.5h7M494.5 383v7M491 390.5h7M494.5 387v7M491 390.5h7M494.5 387v7M491 384.5h7M494.5 381v7M492 393.5h7M495.5 390v7M492 394.5h7M495.5 391v7M492 388.5h7M495.5 385v7M492 391.5h7M495.5 388v7M492 394.5h7M495.5 391v7M492 390.5h7M495.5 387v7M492 390.5h7M495.5 387v7M493 386.5h7M496.5 383v7M493 381.5h7M496.5 378v7M493 379.5h7M496.5 376v7M493 393.5h7M496.5 390v7M493 388.5h7M496.5 385v7M493 389.5h7M496.5 386v7M493 392.5h7M496.5 389v7M493 394.5h7M496.5 391v7M494 390.5h7M497.5 387v7M494 384.5h7M497.5 381v7M494 388.5h7M497.5 385v7M494 387.5h7M497.5 384v7M494 377.5h7M497.5 374v7M494 390.5h7M497.5 387v7M494 386.5h7M497.5 383v7M494 394.5h7M497.5 391v7M495 386.5h7M498.5 383v7M495 386.5h7M498.5 383v7M495 389.5h7M498.5 386v7M495 382.5h7M498.5 379v7M495 388.5h7M498.5 385v7M495 392.5h7M498.5 389v7M495 393.5h7M498.5 390v7M495 386.5h7M498.5 383v7M496 391.5h7M499.5 388v7M496 386.5h7M499.5 383v7M496 387.5h7M499.5 384v7M496 392.5h7M499.5 389v7M496 391.5h7M499.5 388v7M496 388.5h7M499.5 385v7M496 390.5h7M499.5 387v7M496 381.5h7M499.5 378v7M497 391.5h7M500.5 388v7M497 390.5h7M500.5 387v7M497 387.5h7M500.5 384v7M497 383.5h7M500.5 380v7M497 391.5h7M500.5 388v7M497 391.5h7M500.5 388v7M497 387.5h7M500.5 384v7M498 378.5h7M501.5 375v7M498 384.5h7M501.5 381v7M498 391.5h7M501.5 388v7M498 386.5h7M501.5 383v7M498 393.5h7M501.5 390v7M498 392.5h7M501.5 389v7M498 385.5h7M501.5 382v7M498 389.5h7M501.5 386v7M499 388.5h7M502.5 385v7M499 389.5h7M502.5 386v7M499 385.5h7M502.5 382v7M499 382.5h7M502.5 379v7M499 392.5h7M502.5 389v7M499 384.5h7M502.5 381v7M499 391.5h7M502.5 388v7M499 387.5h7M502.5 384v7M500 380.5h7M503.5 377v7M500 389.5h7M503.5 386v7M500 387.5h7M503.5 384v7M500 393.5h7M503.5 390v7M500 386.5h7M503.5 383v7M500 381.5h7M503.5 378v7M500 385.5h7M503.5 382v7M500 391.5h7M503.5 388v7M501 377.5h7M504.5 374v7M501 384.5h7M504.5 381v7M501 393.5h7M504.5 390v7M501 389.5h7M504.5 386v7M501 388.5h7M504.5 385v7M501 388.5h7M504.5 385v7M501 393.5h7M504.5 390v7M501 379.5h7M504.5 376v7M502 391.5h7M505.5 388v7M502 391.5h7M505.5 388v7M502 388.5h7M505.5 385v7M502 374.5h7M505.5 371v7M502 392.5h7M505.5 389v7M502 375.5h7M505.5 372v7M502 392.5h7M505.5 389v7M503 387.5h7M506.5 384v7M503 386.5h7M506.5 383v7M503 392.5h7M506.5 389v7M503 390.5h7M506.5 387v7M503 390.5h7M506.5 387v7M503 386.5h7M506.5 383v7M503 390.5h7M506.5 387v7M503 390.5h7M506.5 387v7M504 388.5h7M507.5 385v7M504 390.5h7M507.5 387v7M504 389.5h7M507.5 386v7M504 391.5h7M507.5 388v7M504 394.5h7M507.5 391v7M504 388.5h7M507.5 385v7M504 391.5h7M507.5 388v7M504 384.5h7M507.5 381v7M505 395.5h7M508.5 392v7M505 380.5h7M508.5 377v7M505 385.5h7M508.5 382v7M505 383.5h7M508.5 380v7M505 392.5h7M508.5 389v7M505 392.5h7M508.5 389v7M505 376.5h7M508.5 373v7M505 374.5h7M508.5 371v7M506 375.5h7M509.5 372v7M506 389.5h7M509.5 386v7M506 391.5h7M509.5 388v7M506 379.5h7M509.5 376v7M506 384.5h7M509.5 381v7M506 391.5h7M509.5 388v7M506 385.5h7M509.5 382v7M506 389.5h7M509.5 386v7M507 387.5h7M510.5 384v7M507 395.5h7M510.5 392v7M507 376.5h7M510.5 373v7M507 383.5h7M510.5 380v7M507 390.5h7M510.5 387v7M507 390.5h7M510.5 387v7M507 388.5h7M510.5 385v7M507 391.5h7M510.5 388v7M508 395.5h7M511.5 392v7M508 381.5h7M511.5 378v7M508 385.5h7M511.5 382v7M508 380.5h7M511.5 377v7M508 393.5h7M511.5 390v7M508 384.5h7M511.5 381v7M508 383.5h7M511.5 380v7M509 387.5h7M512.5 384v7M509 388.5h7M512.5 385v7M509 380.5h7M512.5 377v7M509 386.5h7M512.5 383v7M509 379.5h7M512.5 376v7M509 388.5h7M512.5 385v7M509 392.5h7M512.5 389v7M509 392.5h7M512.5 389v7M510 386.5h7M513.5 383v7M510 390.5h7M513.5 387v7M510 385.5h7M513.5 382v7M510 387.5h7M513.5 384v7M510 386.5h7M513.5 383v7M510 384.5h7M513.5 381v7M510 378.5h7M513.5 375v7M510 384.5h7M513.5 381v7M511 395.5h7M514.5 392v7M511 382.5h7M514.5 379v7M511 383.5h7M514.5 380v7M511 380.5h7M514.5 377v7M511 383.5h7M514.5 380v7M511 388.5h7M514.5 385v7M511 385.5h7M514.5 382v7M511 388.5h7M514.5 385v7M512 389.5h7M515.5 386v7M512 383.5h7M515.5 380v7M512 387.5h7M515.5 384v7M512 393.5h7M515.5 390v7M512 389.5h7M515.5 386v7M512 390.5h7M515.5 387v7M512 388.5h7M515.5 385v7M512 391.5h7M515.5 388v7M513 387.5h7M516.5 384v7M513 384.5h7M516.5 381v7M513 390.5h7M516.5 387v7M513 381.5h7M516.5 378v7M513 384.5h7M516.5 381v7M513 388.5h7M516.5 385v7M513 382.5h7M516.5 379v7M514 387.5h7M517.5 384v7M514 388.5h7M517.5 385v7M514 387.5h7M517.5 384v7M514 390.5h7M517.5 387v7M514 383.5h7M517.5 380v7M514 371.5h7M517.5 368v7M514 387.5h7M517.5 384v7M514 394.5h7M517.5 391v7M515 393.5h7M518.5 390v7M515 392.5h7M518.5 389v7M515 391.5h7M518.5 388v7M515 374.5h7M518.5 371v7M515 383.5h7M518.5 380v7M515 384.5h7M518.5 381v7M515 380.5h7M518.5 377v7M515 390.5h7M518.5 387v7M516 391.5h7M519.5 388v7M516 395.5h7M519.5 392v7M516 391.5h7M519.5 388v7M516 390.5h7M519.5 387v7M516 379.5h7M519.5 376v7M516 388.5h7M519.5 385v7M516 383.5h7M519.5 380v7M516 386.5h7M519.5 383v7M517 388.5h7M520.5 385v7M517 386.5h7M520.5 383v7M517 378.5h7M520.5 375v7M517 385.5h7M520.5 382v7M517 381.5h7M520.5 378v7M517 377.5h7M520.5 374v7M517 391.5h7M520.5 388v7M517 392.5h7M520.5 389v7M518 393.5h7M521.5 390v7M518 392.5h7M521.5 389v7M518 388.5h7M521.5 385v7M518 388.5h7M521.5 385v7M518 389.5h7M521.5 386v7M518 388.5h7M521.5 385v7M518 381.5h7M521.5 378v7M519 391.5h7M522.5 388v7M519 393.5h7M522.5 390v7M519 391.5h7M522.5 388v7M519 382.5h7M522.5 379v7M519 379.5h7M522.5 376v7M519 385.5h7M522.5 382v7M519 394.5h7M522.5 391v7M519 387.5h7M522.5 384v7M520 388.5h7M523.5 385v7M520 374.5h7M523.5 371v7M520 390.5h7M523.5 387v7M520 388.5h7M523.5 385v7M520 391.5h7M523.5 388v7M520 385.5h7M523.5 382v7M520 391.5h7M523.5 388v7M520 388.5h7M523.5 385v7M521 390.5h7M524.5 387v7M521 383.5h7M524.5 380v7M521 393.5h7M524.5 390v7M521 387.5h7M524.5 384v7M521 393.5h7M524.5 390v7M521 391.5h7M524.5 388v7M521 390.5h7M524.5 387v7M521 393.5h7M524.5 390v7M522 384.5h7M525.5 381v7M522 391.5h7M525.5 388v7M522 396.5h7M525.5 393v7M522 392.5h7M525.5 389v7M522 388.5h7M525.5 385v7M522 382.5h7M525.5 379v7M522 385.5h7M525.5 382v7M522 388.5h7M525.5 385v7M523 387.5h7M526.5 384v7M523 385.5h7M526.5 382v7M523 393.5h7M526.5 390v7M523 391.5h7M526.5 388v7M523 388.5h7M526.5 385v7M523 385.5h7M526.5 382v7M523 390.5h7M526.5 387v7M523 385.5h7M526.5 382v7M524 393.5h7M527.5 390v7M524 389.5h7M527.5 386v7M524 389.5h7M527.5 386v7M524 386.5h7M527.5 383v7M524 389.5h7M527.5 386v7M524 385.5h7M527.5 382v7M524 386.5h7M527.5 383v7M525 387.5h7M528.5 384v7M525 394.5h7M528.5 391v7M525 387.5h7M528.5 384v7M525 389.5h7M528.5 386v7M525 391.5h7M528.5 388v7M525 388.5h7M528.5 385v7M525 392.5h7M528.5 389v7M525 389.5h7M528.5 386v7M526 384.5h7M529.5 381v7M526 385.5h7M529.5 382v7M526 390.5h7M529.5 387v7M526 385.5h7M529.5 382v7M526 391.5h7M529.5 388v7M526 387.5h7M529.5 384v7M526 393.5h7M529.5 390v7M526 383.5h7M529.5 380v7M527 384.5h7M530.5 381v7M527 391.5h7M530.5 388v7M527 391.5h7M530.5 388v7M527 384.5h7M530.5 381v7M527 391.5h7M530.5 388v7M527 391.5h7M530.5 388v7M527 391.5h7M530.5 388v7M527 385.5h7M530.5 382v7M528 382.5h7M531.5 379v7M528 384.5h7M531.5 381v7M528 384.5h7M531.5 381v7M528 391.5h7M531.5 388v7M528 389.5h7M531.5 386v7M528 385.5h7M531.5 382v7M528 381.5h7M531.5 378v7M528 388.5h7M531.5 385v7M529 391.5h7M532.5 388v7M529 394.5h7M532.5 391v7M529 391.5h7M532.5 388v7M529 386.5h7M532.5 383v7M529 391.5h7M532.5 388v7M529 384.5h7M532.5 381v7M529 391.5h7M532.5 388v7M530 391.5h7M533.5 388v7M530 386.5h7M533.5 383v7M530 386.5h7M533.5 383v7M530 378.5h7M533.5 375v7M530 392.5h7M533.5 389v7M530 383.5h7M533.5 380v7M530 381.5h7M533.5 378v7M530 391.5h7M533.5 388v7M531 389.5h7M534.5 386v7M531 388.5h7M534.5 385v7M531 390.5h7M534.5 387v7M531 391.5h7M534.5 388v7M531 392.5h7M534.5 389v7M531 393.5h7M534.5 390v7M531 377.5h7M534.5 374v7M531 387.5h7M534.5 384v7M532 380.5h7M535.5 377v7M532 394.5h7M535.5 391v7M532 381.5h7M535.5 378v7M532 396.5h7M535.5 393v7M532 387.5h7M535.5 384v7M532 393.5h7M535.5 390v7M532 392.5h7M535.5 389v7M532 386.5h7M535.5 383v7M533 388.5h7M536.5 385v7M533 393.5h7M536.5 390v7M533 391.5h7M536.5 388v7M533 386.5h7M536.5 383v7M533 391.5h7M536.5 388v7M533 392.5h7M536.5 389v7M533 387.5h7M536.5 384v7M533 393.5h7M536.5 390v7M534 392.5h7M537.5 389v7M534 392.5h7M537.5 389v7M534 392.5h7M537.5 389v7M534 392.5h7M537.5 389v7M534 388.5h7M537.5 385v7M534 390.5h7M537.5 387v7M534 387.5h7M537.5 384v7M535 372.5h7M538.5 369v7M535 374.5h7M538.5 371v7M535 384.5h7M538.5 381v7M535 386.5h7M538.5 383v7M535 380.5h7M538.5 377v7M535 383.5h7M538.5 380v7M535 378.5h7M538.5 375v7M535 383.5h7M538.5 380v7M536 391.5h7M539.5 388v7M536 386.5h7M539.5 383v7M536 391.5h7M539.5 388v7M536 390.5h7M539.5 387v7M536 385.5h7M539.5 382v7M536 385.5h7M539.5 382v7M536 391.5h7M539.5 388v7M536 379.5h7M539.5 376v7M537 388.5h7M540.5 385v7M537 391.5h7M540.5 388v7M537 374.5h7M540.5 371v7M537 385.5h7M540.5 382v7M537 392.5h7M540.5 389v7M537 382.5h7M540.5 379v7M537 393.5h7M540.5 390v7M537 389.5h7M540.5 386v7M538 389.5h7M541.5 386v7M538 391.5h7M541.5 388v7M538 379.5h7M541.5 376v7M538 385.5h7M541.5 382v7M538 393.5h7M541.5 390v7M538 382.5h7M541.5 379v7M538 392.5h7M541.5 389v7M538 380.5h7M541.5 377v7M539 387.5h7M542.5 384v7M539 388.5h7M542.5 385v7M539 386.5h7M542.5 383v7M539 376.5h7M542.5 373v7M539 386.5h7M542.5 383v7M539 389.5h7M542.5 386v7M539 392.5h7M542.5 389v7M539 387.5h7M542.5 384v7M540 390.5h7M543.5 387v7M540 392.5h7M543.5 389v7M540 390.5h7M543.5 387v7M540 391.5h7M543.5 388v7M540 390.5h7M543.5 387v7M540 390.5h7M543.5 387v7M540 389.5h7M543.5 386v7M541 393.5h7M544.5 390v7M541 393.5h7M544.5 390v7M541 386.5h7M544.5 383v7M541 390.5h7M544.5 387v7M541 387.5h7M544.5 384v7M541 389.5h7M544.5 386v7M541 386.5h7M544.5 383v7M541 392.5h7M544.5 389v7M542 384.5h7M545.5 381v7M542 388.5h7M545.5 385v7M542 389.5h7M545.5 386v7M542 389.5h7M545.5 386v7M542 382.5h7M545.5 379v7M542 394.5h7M545.5 391v7M542 391.5h7M545.5 388v7M542 382.5h7M545.5 379v7M543 397.5h7M546.5 394v7M543 385.5h7M546.5 382v7M543 382.5h7M546.5 379v7M543 390.5h7M546.5 387v7M543 390.5h7M546.5 387v7M543 391.5h7M546.5 388v7M543 391.5h7M546.5 388v7M543 389.5h7M546.5 386v7M544 384.5h7M547.5 381v7M544 387.5h7M547.5 384v7M544 393.5h7M547.5 390v7M544 378.5h7M547.5 375v7M544 391.5h7M547.5 388v7M544 389.5h7M547.5 386v7M544 388.5h7M547.5 385v7M544 390.5h7M547.5 387v7M545 391.5h7M548.5 388v7M545 388.5h7M548.5 385v7M545 389.5h7M548.5 386v7M545 389.5h7M548.5 386v7M545 390.5h7M548.5 387v7M545 384.5h7M548.5 381v7M545 393.5h7M548.5 390v7M546 381.5h7M549.5 378v7M546 390.5h7M549.5 387v7M546 387.5h7M549.5 384v7M546 383.5h7M549.5 380v7M546 393.5h7M549.5 390v7M546 395.5h7M549.5 392v7M546 391.5h7M549.5 388v7M546 389.5h7M549.5 386v7M547 391.5h7M550.5 388v7M547 391.5h7M550.5 388v7M547 394.5h7M550.5 391v7M547 387.5h7M550.5 384v7M547 393.5h7M550.5 390v7M547 389.5h7M550.5 386v7M547 388.5h7M550.5 385v7M547 394.5h7M550.5 391v7M548 389.5h7M551.5 386v7M548 387.5h7M551.5 384v7M548 391.5h7M551.5 388v7M548 389.5h7M551.5 386v7M548 379.5h7M551.5 376v7M548 392.5h7M551.5 389v7M548 392.5h7M551.5 389v7M548 389.5h7M551.5 386v7M549 389.5h7M552.5 386v7M549 391.5h7M552.5 388v7M549 392.5h7M552.5 389v7M549 394.5h7M552.5 391v7M549 393.5h7M552.5 390v7M549 383.5h7M552.5 380v7M549 385.5h7M552.5 382v7M549 385.5h7M552.5 382v7M550 377.5h7M553.5 374v7M550 393.5h7M553.5 390v7M550 393.5h7M553.5 390v7M550 387.5h7M553.5 384v7M550 394.5h7M553.5 391v7M550 376.5h7M553.5 373v7M550 390.5h7M553.5 387v7M551 392.5h7M554.5 389v7M551 388.5h7M554.5 385v7M551 379.5h7M554.5 376v7M551 393.5h7M554.5 390v7M551 392.5h7M554.5 389v7M551 385.5h7M554.5 382v7M551 384.5h7M554.5 381v7M551 389.5h7M554.5 386v7M552 387.5h7M555.5 384v7M552 392.5h7M555.5 389v7M552 394.5h7M555.5 391v7M552 392.5h7M555.5 389v7M552 388.5h7M555.5 385v7M552 391.5h7M555.5 388v7M552 390.5h7M555.5 387v7M552 385.5h7M555.5 382v7M553 395.5h7M556.5 392v7M553 375.5h7M556.5 372v7M553 385.5h7M556.5 382v7M553 389.5h7M556.5 386v7M553 392.5h7M556.5 389v7M553 386.5h7M556.5 383v7M553 388.5h7M556.5 385v7M553 394.5h7M556.5 391v7M554 388.5h7M557.5 385v7M554 375.5h7M557.5 372v7M554 394.5h7M557.5 391v7M554 391.5h7M557.5 388v7M554 382.5h7M557.5 379v7M554 386.5h7M557.5 383v7M554 394.5h7M557.5 391v7M554 384.5h7M557.5 381v7M555 386.5h7M558.5 383v7M555 381.5h7M558.5 378v7M555 389.5h7M558.5 386v7M555 380.5h7M558.5 377v7M555 383.5h7M558.5 380v7M555 385.5h7M558.5 382v7M555 389.5h7M558.5 386v7M555 390.5h7M558.5 387v7M556 393.5h7M559.5 390v7M556 389.5h7M559.5 386v7M556 391.5h7M559.5 388v7M556 379.5h7M559.5 376v7M556 389.5h7M559.5 386v7M556 387.5h7M559.5 384v7M556 376.5h7M559.5 373v7M557 392.5h7M560.5 389v7M557 391.5h7M560.5 388v7M557 391.5h7M560.5 388v7M557 379.5h7M560.5 376v7M557 390.5h7M560.5 387v7M557 388.5h7M560.5 385v7M557 388.5h7M560.5 385v7M557 393.5h7M560.5 390v7M558 394.5h7M561.5 391v7M558 390.5h7M561.5 387v7M558 393.5h7M561.5 390v7"/>
<path d="M116 401.5h7M119.5 398v7M125 398.5h7M128.5 395v7M340 400.5h7M343.5 397v7M378 399.5h7M381.5 396v7M509 399.5h7M512.5 396v7M524 400.5h7M527.5 397v7M432 398.5h7M435.5 395v7M231 398.5h7M234.5 395v7M456 399.5h7M459.5 396v7M552 399.5h7M555.5 396v7M540 398.5h7M543.5 395v7M297 398.5h7M300.5 395v7M203 398.5h7M206.5 395v7M255 109.5h7M258.5 106v7M208 162.5h7M211.5 159v7M224 157.5h7M227.5 154v7M279 156.5h7M282.5 153v7M238 182.5h7M241.5 179v7M245 194.5h7M248.5 191v7M253 209.5h7M256.5 206v7M377 158.5h7M380.5 155v7M477 172.5h7M480.5 169v7M110 265.5h7M113.5 262v7M189 242.5h7M192.5 239v7M207 243.5h7M210.5 240v7M228 222.5h7M231.5 219v7M238 220.5h7M241.5 217v7M255 217.5h7M258.5 214v7M224 231.5h7M227.5 228v7M227 242.5h7M230.5 239v7M226 249.5h7M229.5 246v7M226 258.5h7M229.5 255v7M242 260.5h7M245.5 257v7M230 266.5h7M233.5 263v7M229 269.5h7M232.5 266v7M226 280.5h7M229.5 277v7M245 281.5h7M248.5 278v7M171 279.5h7M174.5 276v7M176 287.5h7M179.5 284v7M241 289.5h7M244.5 286v7M236 292.5h7M239.5 289v7M201 293.5h7M204.5 290v7M203 297.5h7M206.5 294v7M207 296.5h7M210.5 293v7M210 295.5h7M213.5 292v7M175 301.5h7M178.5 298v7M175 302.5h7M178.5 299v7M214 301.5h7M217.5 298v7M247 301.5h7M250.5 298v7M259 303.5h7M262.5 300v7M309 214.5h7M312.5 211v7M323 224.5h7M326.5 221v7M362 222.5h7M365.5 219v7M380 229.5h7M383.5 226v7M388 236.5h7M391.5 233v7M302 239.5h7M305.5 236v7M286 245.5h7M289.5 242v7M354 246.5h7M357.5 243v7M288 258.5h7M291.5 255v7M311 261.5h7M314.5 258v7M325 256.5h7M328.5 253v7M346 256.5h7M349.5 253v7M343 265.5h7M346.5 262v7M389 263.5h7M392.5 260v7M405 269.5h7M408.5 266v7M262 276.5h7M265.5 273v7M345 275.5h7M348.5 272v7M341 280.5h7M344.5 277v7M343 281.5h7M346.5 278v7M351 279.5h7M354.5 276v7M385 284.5h7M388.5 281v7M277 288.5h7M280.5 285v7M305 284.5h7M308.5 281v7M293 291.5h7M296.5 288v7M301 291.5h7M304.5 288v7M290 295.5h7M293.5 292v7M340 290.5h7M343.5 287v7M325 296.5h7M328.5 293v7M345 296.5h7M348.5 293v7M351 294.5h7M354.5 291v7M262 300.5h7M265.5 297v7M349 303.5h7M352.5 300v7M375 303.5h7M378.5 300v7M378 304.5h7M381.5 301v7M520 211.5h7M523.5 208v7M464 233.5h7M467.5 230v7M454 251.5h7M457.5 248v7M500 251.5h7M503.5 248v7M470 260.5h7M473.5 257v7M470 265.5h7M473.5 262v7M490 261.5h7M493.5 258v7M517 264.5h7M520.5 261v7M545 265.5h7M548.5 262v7M549 264.5h7M552.5 261v7M556 272.5h7M559.5 269v7M420 270.5h7M423.5 267v7M458 273.5h7M461.5 270v7M495 277.5h7M498.5 274v7M452 283.5h7M455.5 280v7M483 290.5h7M486.5 287v7M488 290.5h7M491.5 287v7M527 285.5h7M530.5 282v7M524 288.5h7M527.5 285v7M522 296.5h7M525.5 293v7M513 300.5h7M516.5 297v7M518 301.5h7M521.5 298v7M491 305.5h7M494.5 302v7M120 350.5h7M123.5 347v7M134 347.5h7M137.5 344v7M133 349.5h7M136.5 346v7M171 333.5h7M174.5 330v7M172 337.5h7M175.5 334v7M166 351.5h7M169.5 348v7M156 354.5h7M159.5 351v7M158 359.5h7M161.5 356v7M147 360.5h7M150.5 357v7M149 359.5h7M152.5 356v7M145 363.5h7M148.5 360v7M149 365.5h7M152.5 362v7M148 369.5h7M151.5 366v7M164 367.5h7M167.5 364v7M111 363.5h7M114.5 360v7M112 365.5h7M115.5 362v7M118 369.5h7M121.5 366v7M114 371.5h7M117.5 368v7M120 373.5h7M123.5 370v7M129 371.5h7M132.5 368v7M116 378.5h7M119.5 375v7M126 377.5h7M129.5 374v7M139 373.5h7M142.5 370v7M151 372.5h7M154.5 369v7M159 370.5h7M162.5 367v7M163 372.5h7M166.5 369v7M183 306.5h7M186.5 303v7M198 305.5h7M201.5 302v7M199 308.5h7M202.5 305v7M216 305.5h7M219.5 302v7M178 320.5h7M181.5 317v7M193 319.5h7M196.5 316v7M196 318.5h7M199.5 315v7M204 317.5h7M207.5 314v7M207 315.5h7M210.5 312v7M211 316.5h7M214.5 313v7M242 315.5h7M245.5 312v7M236 319.5h7M239.5 316v7M235 323.5h7M238.5 320v7M240 325.5h7M243.5 322v7M249 326.5h7M252.5 323v7M249 330.5h7M252.5 327v7M215 327.5h7M218.5 324v7M216 328.5h7M219.5 325v7M229 328.5h7M232.5 325v7M195 330.5h7M198.5 327v7M180 337.5h7M183.5 334v7M180 340.5h7M183.5 337v7M186 339.5h7M189.5 336v7M235 341.5h7M238.5 338v7M249 345.5h7M252.5 342v7M219 347.5h7M222.5 344v7M197 349.5h7M200.5 346v7M178 350.5h7M181.5 347v7M242 349.5h7M245.5 346v7M247 350.5h7M250.5 347v7M245 353.5h7M248.5 350v7M240 356.5h7M243.5 353v7M244 358.5h7M247.5 355v7M174 357.5h7M177.5 354v7M177 357.5h7M180.5 354v7M222 358.5h7M225.5 355v7M223 359.5h7M226.5 356v7M192 364.5h7M195.5 361v7M224 364.5h7M227.5 361v7M228 366.5h7M231.5 363v7M239 365.5h7M242.5 362v7M219 370.5h7M222.5 367v7M236 373.5h7M239.5 370v7M176 376.5h7M179.5 373v7M208 378.5h7M211.5 375v7M221 377.5h7M224.5 374v7M252 369.5h7M255.5 366v7M212 378.5h7M215.5 375v7M239 377.5h7M242.5 374v7M249 377.5h7M252.5 374v7M329 306.5h7M332.5 303v7M317 317.5h7M320.5 314v7M318 319.5h7M321.5 316v7M300 319.5h7M303.5 316v7M296 324.5h7M299.5 321v7M259 324.5h7M262.5 321v7M288 330.5h7M291.5 327v7M284 338.5h7M287.5 335v7M322 339.5h7M325.5 336v7M259 341.5h7M262.5 338v7M265 340.5h7M268.5 337v7M312 345.5h7M315.5 342v7M260 349.5h7M263.5 346v7M261 350.5h7M264.5 347v7M256 357.5h7M259.5 354v7M314 362.5h7M317.5 359v7M273 363.5h7M276.5 360v7M277 366.5h7M280.5 363v7M255 369.5h7M258.5 366v7M269 370.5h7M272.5 367v7M289 369.5h7M292.5 366v7M284 372.5h7M287.5 369v7M296 373.5h7M299.5 370v7M302 373.5h7M305.5 370v7M317 372.5h7M320.5 369v7M330 369.5h7M333.5 366v7M260 375.5h7M263.5 372v7M306 374.5h7M309.5 371v7M328 377.5h7M331.5 374v7M354 308.5h7M357.5 305v7M357 312.5h7M360.5 309v7M355 315.5h7M358.5 312v7M360 318.5h7M363.5 315v7M342 317.5h7M345.5 314v7M352 320.5h7M355.5 317v7M386 317.5h7M389.5 314v7M397 319.5h7M400.5 316v7M409 316.5h7M412.5 313v7M343 326.5h7M346.5 323v7M387 326.5h7M390.5 323v7M391 328.5h7M394.5 325v7M358 331.5h7M361.5 328v7M344 333.5h7M347.5 330v7M385 333.5h7M388.5 330v7M413 330.5h7M416.5 327v7M372 341.5h7M375.5 338v7M406 339.5h7M409.5 336v7M404 342.5h7M407.5 339v7M346 343.5h7M349.5 340v7M350 343.5h7M353.5 340v7M356 345.5h7M359.5 342v7M388 345.5h7M391.5 342v7M392 344.5h7M395.5 341v7M365 349.5h7M368.5 346v7M357 350.5h7M360.5 347v7M361 351.5h7M364.5 348v7M350 352.5h7M353.5 349v7M413 347.5h7M416.5 344v7M409 353.5h7M412.5 350v7M410 354.5h7M413.5 351v7M397 354.5h7M400.5 351v7M391 357.5h7M394.5 354v7M359 357.5h7M362.5 354v7M375 362.5h7M378.5 359v7M383 366.5h7M386.5 363v7M369 370.5h7M372.5 367v7M403 367.5h7M406.5 364v7M403 370.5h7M406.5 367v7M410 368.5h7M413.5 365v7M338 373.5h7M341.5 370v7M344 372.5h7M347.5 369v7M381 373.5h7M384.5 370v7M388 372.5h7M391.5 369v7M395 372.5h7M398.5 369v7M432 305.5h7M435.5 302v7M433 309.5h7M436.5 306v7M462 309.5h7M465.5 306v7M477 310.5h7M480.5 307v7M483 309.5h7M486.5 306v7M484 314.5h7M487.5 311v7M451 318.5h7M454.5 315v7M486 324.5h7M489.5 321v7M422 327.5h7M425.5 324v7M423 334.5h7M426.5 331v7M432 330.5h7M435.5 327v7M433 334.5h7M436.5 331v7M458 330.5h7M461.5 327v7M469 334.5h7M472.5 331v7M482 335.5h7M485.5 332v7M462 337.5h7M465.5 334v7M489 339.5h7M492.5 336v7M425 340.5h7M428.5 337v7M428 339.5h7M431.5 336v7M443 338.5h7M446.5 335v7M440 342.5h7M443.5 339v7M456 345.5h7M459.5 342v7M464 344.5h7M467.5 341v7M463 347.5h7M466.5 344v7M469 343.5h7M472.5 340v7M481 344.5h7M484.5 341v7M419 355.5h7M422.5 352v7M428 353.5h7M431.5 350v7M475 356.5h7M478.5 353v7M442 359.5h7M445.5 356v7M453 364.5h7M456.5 361v7M438 365.5h7M441.5 362v7M440 367.5h7M443.5 364v7M487 365.5h7M490.5 362v7M473 367.5h7M476.5 364v7M470 370.5h7M473.5 367v7M459 371.5h7M462.5 368v7M417 370.5h7M420.5 367v7M423 371.5h7M426.5 368v7M428 372.5h7M431.5 369v7M435 372.5h7M438.5 369v7M491 369.5h7M494.5 366v7M467 372.5h7M470.5 369v7M475 373.5h7M478.5 370v7M452 374.5h7M455.5 371v7M526 309.5h7M529.5 306v7M498 318.5h7M501.5 315v7M502 318.5h7M505.5 315v7M508 322.5h7M511.5 319v7M493 325.5h7M496.5 322v7M527 329.5h7M530.5 326v7M530 331.5h7M533.5 328v7M511 336.5h7M514.5 333v7M510 338.5h7M513.5 335v7M517 340.5h7M520.5 337v7M530 337.5h7M533.5 334v7M532 346.5h7M535.5 343v7M524 349.5h7M527.5 346v7M545 349.5h7M548.5 346v7M515 351.5h7M518.5 348v7M500 354.5h7M503.5 351v7M523 355.5h7M526.5 352v7M526 357.5h7M529.5 354v7M532 356.5h7M535.5 353v7M548 357.5h7M551.5 354v7M555 358.5h7M558.5 355v7M494 360.5h7M497.5 357v7M519 360.5h7M522.5 357v7M509 363.5h7M512.5 360v7M494 368.5h7M497.5 365v7M494 371.5h7M497.5 368v7M530 367.5h7M533.5 364v7M522 368.5h7M525.5 365v7M543 370.5h7M546.5 367v7M550 372.5h7M553.5 369v7M510 373.5h7M513.5 370v7M534 372.5h7M537.5 369v7"/>
</g>
<rect x="100.5" y="45.5" width="512" height="386" stroke="#000" stroke-width="1" fill="none"/>
</svg>
</body></html>
